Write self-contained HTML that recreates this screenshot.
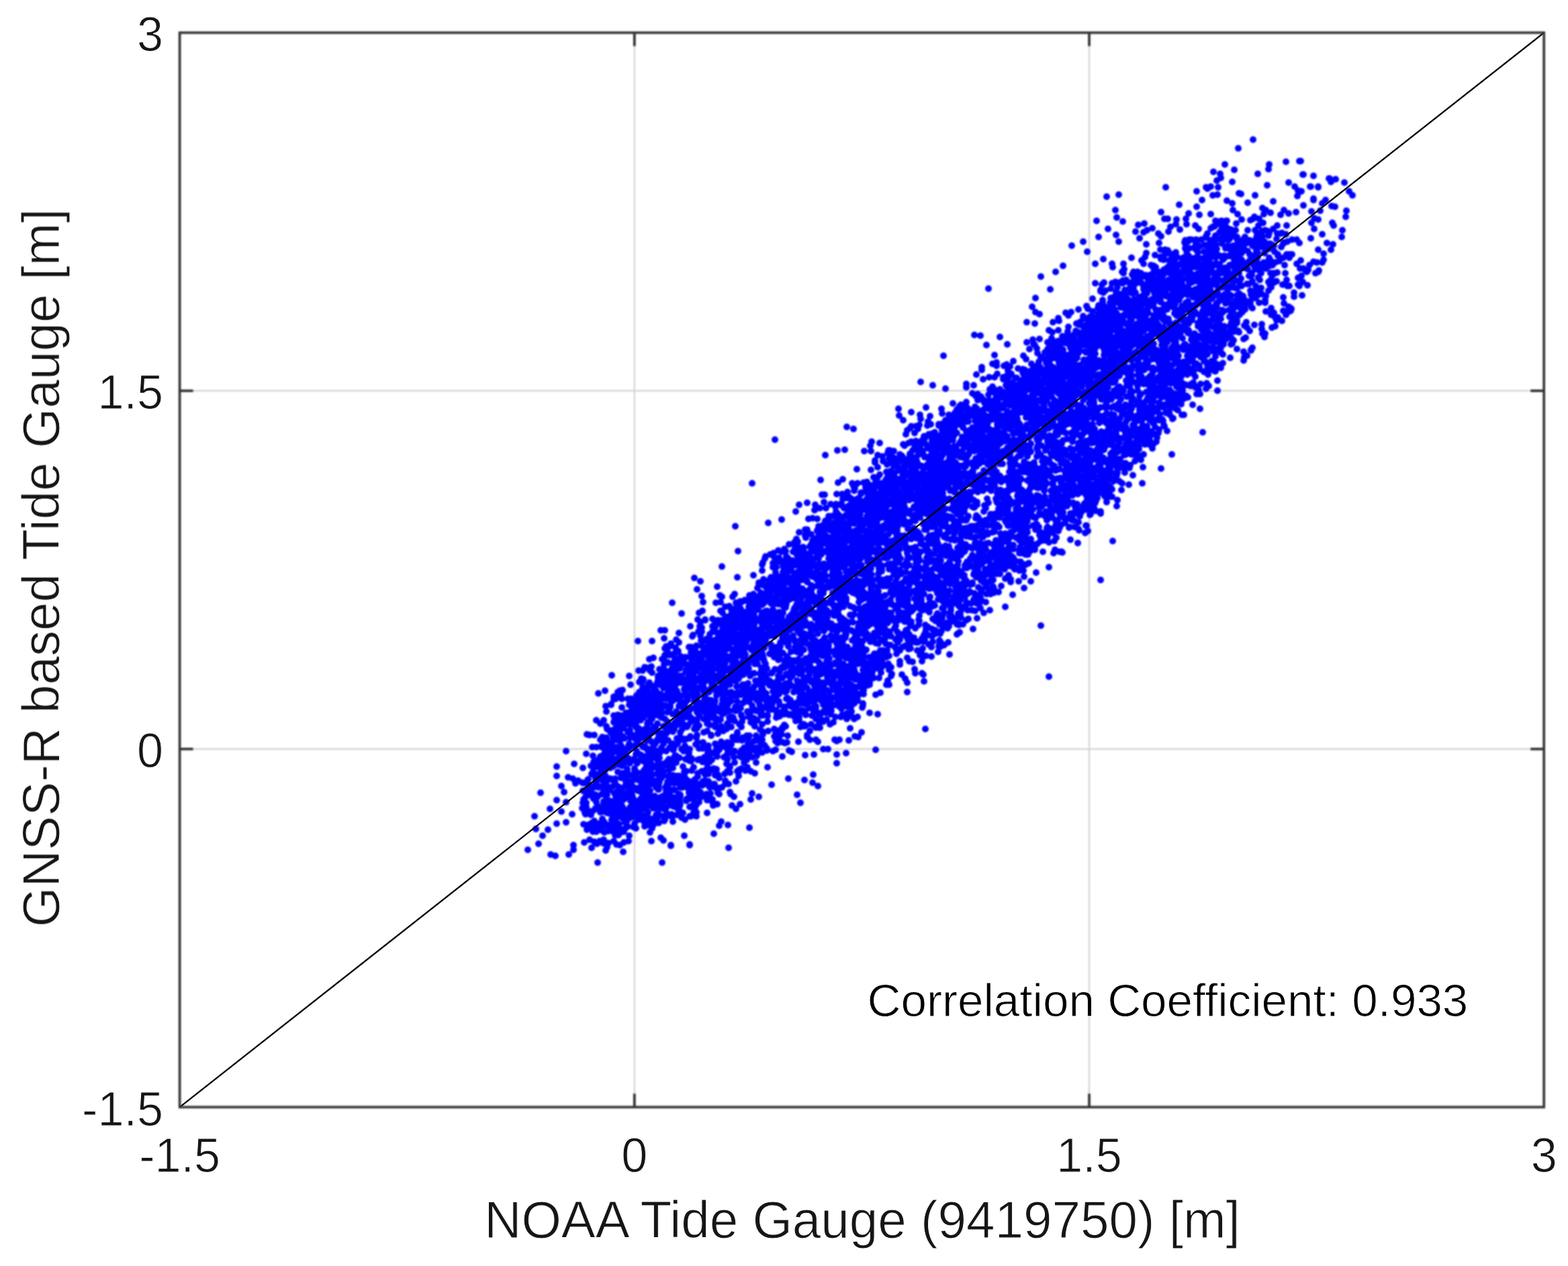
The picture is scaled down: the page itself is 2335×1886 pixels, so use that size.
<!DOCTYPE html>
<html lang="en">
<head>
<meta charset="utf-8">
<title>GNSS-R based Tide Gauge vs NOAA Tide Gauge</title>
<style>
html,body{margin:0;padding:0;background:#fff;}
body{width:2335px;height:1886px;}
svg{display:block;}
text{font-family:"Liberation Sans",sans-serif;fill:#161616;}
</style>
</head>
<body>
<svg width="2335" height="1886" viewBox="0 0 2335 1886">
<defs>
<filter id="bd" filterUnits="userSpaceOnUse" x="0" y="0" width="2335" height="1886"><feGaussianBlur stdDeviation="1.00"/></filter>
<filter id="bl" filterUnits="userSpaceOnUse" x="0" y="0" width="2335" height="1886"><feGaussianBlur stdDeviation="0.70"/></filter>
<filter id="bt" filterUnits="userSpaceOnUse" x="0" y="0" width="2335" height="1886"><feGaussianBlur stdDeviation="0.70"/></filter>
<filter id="bg" filterUnits="userSpaceOnUse" x="0" y="0" width="2335" height="1886"><feGaussianBlur stdDeviation="0.50"/></filter>
<filter id="br" filterUnits="userSpaceOnUse" x="0" y="0" width="2335" height="1886"><feGaussianBlur stdDeviation="0.90"/></filter>
<filter id="ba" filterUnits="userSpaceOnUse" x="0" y="0" width="2335" height="1886"><feGaussianBlur stdDeviation="0.95"/></filter>
</defs>
<rect x="0" y="0" width="2335" height="1886" fill="#fff"/>
<g stroke="#d3d3d3" stroke-width="2.3" fill="none" filter="url(#br)">
<line x1="944.8" y1="48.7" x2="944.8" y2="1649.3"/>
<line x1="1622.0" y1="48.7" x2="1622.0" y2="1649.3"/>
<line x1="267.6" y1="582.2" x2="2299.2" y2="582.2"/>
<line x1="267.6" y1="1115.8" x2="2299.2" y2="1115.8"/>
</g>
<path id="scatter" filter="url(#bd)" fill="none" stroke="#0000ff" stroke-width="10.0" stroke-linecap="round" d="M786 1266h0M796 1216h0M798 1235h0M802 1257h0M805 1181h0M808 1245h0M816 1236h0M819 1205h0M820 1273h0M827 1275h0M829 1227h0M829 1142h0M829 1156h0M829 1192h0M836 1171h0M836 1209h0M840 1180h0M843 1119h0M843 1195h0M843 1225h0M846 1158h0M847 1273h0M852 1213h0M853 1160h0M854 1259h0M854 1266h0M855 1138h0M857 1167h0M861 1163h0M867 1204h0M867 1166h0M868 1196h0M868 1178h0M868 1144h0M869 1191h0M869 1228h0M870 1255h0M870 1207h0M871 1211h0M871 1167h0M872 1213h0M872 1187h0M873 1123h0M873 1202h0M873 1196h0M874 1236h0M874 1094h0M875 1229h0M875 1182h0M875 1166h0M875 1162h0M876 1230h0M876 1161h0M876 1208h0M876 1176h0M878 1095h0M878 1251h0M880 1185h0M880 1141h0M880 1214h0M881 1263h0M881 1232h0M881 1153h0M881 1226h0M882 1172h0M882 1233h0M882 1182h0M882 1113h0M883 1126h0M883 1188h0M883 1150h0M883 1208h0M883 1139h0M883 1239h0M883 1226h0M884 1190h0M884 1135h0M884 1173h0M885 1190h0M885 1095h0M885 1233h0M885 1254h0M885 1238h0M885 1223h0M886 1153h0M886 1156h0M886 1143h0M886 1233h0M887 1167h0M887 1204h0M887 1184h0M887 1160h0M887 1186h0M887 1205h0M888 1168h0M888 1113h0M888 1164h0M888 1073h0M888 1195h0M888 1239h0M889 1257h0M889 1235h0M890 1135h0M890 1187h0M890 1285h0M890 1201h0M890 1142h0M891 1173h0M891 1233h0M891 1228h0M891 1132h0M891 1033h0M892 1139h0M892 1161h0M892 1138h0M893 1253h0M893 1152h0M893 1138h0M893 1232h0M894 1078h0M894 1102h0M894 1210h0M894 1127h0M894 1209h0M894 1226h0M894 1133h0M895 1133h0M895 1146h0M895 1172h0M895 1133h0M896 1111h0M896 1183h0M896 1161h0M896 1237h0M896 1113h0M896 1139h0M897 1227h0M897 1098h0M897 1226h0M897 1135h0M897 1220h0M898 1256h0M898 1137h0M898 1209h0M898 1183h0M898 1106h0M898 1153h0M898 1163h0M899 1251h0M899 1073h0M899 1194h0M899 1197h0M899 1104h0M899 1203h0M899 1140h0M899 1124h0M899 1177h0M900 1171h0M900 1148h0M900 1112h0M900 1230h0M900 1133h0M900 1225h0M900 1184h0M900 1240h0M900 1142h0M901 1230h0M901 1029h0M901 1112h0M901 1147h0M901 1155h0M901 1117h0M901 1118h0M902 1140h0M902 1052h0M902 1267h0M903 1165h0M903 1158h0M903 1082h0M903 1060h0M903 1193h0M903 1184h0M903 1169h0M903 1107h0M903 1099h0M904 1086h0M904 1184h0M904 1211h0M904 1262h0M904 1113h0M904 1125h0M905 1197h0M905 1136h0M905 1208h0M906 1256h0M906 1238h0M906 1195h0M906 1174h0M907 1119h0M907 1109h0M907 1088h0M907 1195h0M908 1202h0M908 1229h0M908 1135h0M908 1110h0M908 1177h0M908 1193h0M908 1212h0M908 1203h0M908 1118h0M908 1133h0M909 1106h0M909 1126h0M909 1120h0M909 1144h0M909 1236h0M909 1208h0M909 1160h0M909 1209h0M910 1050h0M910 1092h0M910 1049h0M911 1006h0M911 1142h0M911 1221h0M911 1106h0M911 1222h0M912 1207h0M912 1172h0M912 1122h0M912 1199h0M912 1112h0M912 1226h0M912 1162h0M912 1088h0M913 1093h0M913 1239h0M913 1113h0M913 1099h0M913 1142h0M914 1076h0M914 1212h0M914 1230h0M914 1117h0M914 1217h0M914 1066h0M914 1253h0M914 1042h0M914 1206h0M914 1038h0M915 1135h0M915 1073h0M915 1098h0M915 1182h0M915 1163h0M916 1160h0M916 1086h0M916 1244h0M916 1166h0M916 1131h0M916 1118h0M917 1087h0M917 1182h0M917 1204h0M917 1115h0M917 1041h0M917 1221h0M917 1102h0M917 1189h0M917 1194h0M917 1185h0M918 1138h0M918 1237h0M918 1217h0M918 1258h0M918 1067h0M918 1202h0M918 1113h0M918 1080h0M918 1180h0M919 1080h0M919 1120h0M919 1236h0M919 1085h0M919 1116h0M920 1244h0M920 1081h0M920 1243h0M920 1150h0M920 1139h0M920 1031h0M920 1116h0M920 1065h0M920 1195h0M921 1244h0M921 1233h0M921 1087h0M921 1212h0M921 1202h0M921 1172h0M921 1197h0M921 1091h0M921 1201h0M921 1035h0M921 1103h0M922 1089h0M922 1237h0M922 1228h0M922 1136h0M922 1076h0M922 1127h0M923 1259h0M923 1188h0M923 1029h0M923 1104h0M923 1095h0M923 1115h0M923 1241h0M923 1092h0M923 1072h0M923 1094h0M924 1032h0M924 1081h0M924 1198h0M924 1035h0M924 1183h0M924 1066h0M925 1158h0M925 1111h0M925 1205h0M925 1159h0M925 1075h0M925 1120h0M926 1200h0M926 1177h0M926 1128h0M926 1153h0M926 1141h0M926 1214h0M926 1157h0M926 1041h0M926 1054h0M927 1181h0M927 1067h0M927 1076h0M927 1219h0M927 1097h0M927 1152h0M927 1216h0M927 1134h0M927 1028h0M928 1208h0M928 1205h0M928 1204h0M928 1269h0M928 1269h0M928 1215h0M928 1236h0M929 1085h0M929 1182h0M929 1191h0M929 1070h0M929 1255h0M929 1239h0M930 1080h0M930 1221h0M930 1209h0M930 1100h0M930 1153h0M930 1172h0M930 1137h0M931 1225h0M931 1152h0M931 1234h0M932 1216h0M932 1068h0M932 1077h0M932 1069h0M932 1116h0M932 1165h0M932 1124h0M932 1062h0M932 1130h0M932 1126h0M933 1069h0M933 1212h0M934 1149h0M934 1146h0M934 1078h0M934 1230h0M934 1184h0M934 1157h0M934 1222h0M934 1232h0M935 1209h0M935 1188h0M935 1041h0M935 1077h0M935 1067h0M935 1065h0M935 1076h0M935 1153h0M935 1091h0M936 1175h0M936 1130h0M936 1253h0M936 1135h0M936 1062h0M936 1111h0M936 1116h0M936 1073h0M937 1079h0M937 1108h0M937 1132h0M937 1215h0M937 1207h0M937 1050h0M937 1007h0M937 1218h0M937 1182h0M937 1245h0M937 1114h0M937 1166h0M937 1214h0M937 1069h0M938 1132h0M938 1048h0M938 1137h0M938 1203h0M938 1174h0M938 1114h0M938 1180h0M938 1088h0M938 1099h0M938 1216h0M938 1206h0M939 1189h0M939 1206h0M939 1190h0M939 1213h0M939 1020h0M939 1216h0M939 1218h0M939 1193h0M939 1214h0M940 1063h0M940 1044h0M940 1094h0M940 1041h0M940 1043h0M940 1072h0M940 1065h0M941 1051h0M941 1055h0M941 1184h0M941 1198h0M941 1216h0M941 1164h0M941 1197h0M942 1187h0M942 1070h0M942 1155h0M942 1054h0M942 1211h0M942 1055h0M943 1199h0M943 1232h0M943 1205h0M943 1099h0M944 1131h0M944 1080h0M944 1203h0M944 1173h0M944 1062h0M944 1198h0M944 1217h0M945 1071h0M945 1111h0M945 1079h0M945 1148h0M945 1096h0M945 1227h0M945 1145h0M945 1133h0M946 1208h0M946 1133h0M946 1193h0M946 1176h0M946 1051h0M947 1068h0M947 1065h0M947 1080h0M947 1234h0M947 1083h0M947 1044h0M947 1157h0M947 1075h0M947 1077h0M947 1124h0M948 1119h0M948 1036h0M948 1103h0M949 1073h0M949 1060h0M949 1137h0M949 1161h0M949 1094h0M949 1053h0M949 1134h0M949 1176h0M949 1151h0M949 1203h0M950 1107h0M950 1198h0M950 1088h0M950 955h0M950 1162h0M950 1178h0M950 1072h0M950 1058h0M950 1040h0M950 1178h0M951 999h0M951 1085h0M951 1174h0M951 1215h0M951 1055h0M951 1221h0M951 1064h0M951 1071h0M951 1043h0M952 1094h0M952 1069h0M952 1031h0M952 1064h0M952 1037h0M952 1208h0M952 1016h0M952 1058h0M952 1178h0M953 1032h0M953 1048h0M953 1098h0M953 1046h0M953 1061h0M953 1212h0M953 1124h0M954 1190h0M954 1100h0M954 1073h0M954 1161h0M954 1200h0M954 1037h0M955 1214h0M955 1178h0M955 1127h0M955 1062h0M955 1011h0M955 1125h0M955 1180h0M955 1189h0M955 1170h0M956 1181h0M956 1189h0M956 1095h0M956 1067h0M956 1217h0M956 1056h0M956 1048h0M956 1111h0M956 1049h0M956 1063h0M957 1156h0M957 1015h0M957 1036h0M957 999h0M957 1112h0M957 1024h0M957 1191h0M957 1095h0M958 1220h0M958 1113h0M958 1165h0M958 1149h0M958 1012h0M958 1041h0M958 1165h0M958 1134h0M958 1159h0M958 1099h0M958 1069h0M959 1176h0M959 1041h0M959 1196h0M959 1040h0M959 1224h0M959 1087h0M959 1148h0M959 1205h0M959 1223h0M959 1046h0M960 1092h0M960 1231h0M960 994h0M960 1182h0M960 1132h0M960 1186h0M960 1111h0M960 1040h0M961 1226h0M961 1153h0M961 1201h0M961 1204h0M961 1145h0M961 1127h0M961 1059h0M961 1032h0M961 1043h0M961 1045h0M962 1184h0M962 1154h0M962 1036h0M962 1046h0M962 1203h0M962 1114h0M962 1064h0M962 1169h0M962 1098h0M962 1153h0M962 1215h0M962 1094h0M962 1032h0M963 1128h0M963 1168h0M963 1090h0M963 1055h0M963 1162h0M963 1140h0M964 1088h0M964 1167h0M964 1173h0M964 1083h0M964 995h0M964 1025h0M964 1092h0M964 1135h0M964 1033h0M964 1078h0M964 1211h0M964 1117h0M964 1031h0M964 1103h0M964 1174h0M964 1091h0M964 1130h0M964 1167h0M964 1188h0M965 1076h0M965 1184h0M965 1229h0M965 1049h0M965 1217h0M965 1125h0M965 1210h0M965 1063h0M965 1088h0M965 1021h0M965 1034h0M966 1192h0M966 1057h0M966 1226h0M967 1129h0M967 1102h0M967 1183h0M967 1190h0M967 1124h0M967 1169h0M967 1155h0M967 1066h0M967 982h0M967 1017h0M968 1194h0M968 999h0M968 1068h0M968 1116h0M968 1057h0M968 1222h0M968 1178h0M968 1076h0M968 1060h0M968 1093h0M968 1131h0M968 1240h0M969 1143h0M969 1022h0M969 1148h0M969 1042h0M969 1136h0M970 1198h0M970 1196h0M970 1038h0M970 1201h0M970 1119h0M970 1198h0M970 993h0M970 1253h0M971 1002h0M971 1059h0M971 1154h0M971 1106h0M971 1048h0M971 1060h0M971 1071h0M971 1234h0M971 1196h0M971 1032h0M971 955h0M971 1091h0M972 1223h0M972 1067h0M972 1033h0M972 1168h0M972 1050h0M972 1022h0M972 1088h0M972 1162h0M973 1143h0M973 1229h0M973 1200h0M973 1114h0M973 1194h0M973 1204h0M973 1118h0M973 980h0M974 1066h0M974 1028h0M974 1219h0M974 1141h0M974 1083h0M974 1226h0M975 1123h0M975 1186h0M975 1022h0M975 1044h0M975 1052h0M975 1109h0M975 1029h0M976 1204h0M976 1125h0M976 1129h0M976 1053h0M976 1199h0M976 1123h0M976 1196h0M977 1087h0M977 1032h0M977 1219h0M977 1039h0M977 1029h0M977 1189h0M977 1086h0M977 1106h0M977 1173h0M977 1214h0M977 1204h0M978 1103h0M978 1153h0M978 1192h0M978 1050h0M979 1078h0M979 1167h0M979 1131h0M979 1038h0M979 1016h0M979 1090h0M979 1219h0M979 1172h0M979 1132h0M979 1057h0M979 1129h0M980 1010h0M980 1176h0M980 1015h0M980 1146h0M980 1014h0M980 1201h0M980 1059h0M980 1131h0M980 1170h0M980 1190h0M980 1169h0M980 1146h0M980 1007h0M980 1144h0M981 1226h0M981 1195h0M981 1161h0M981 1176h0M981 1171h0M981 1152h0M981 1213h0M981 1214h0M981 1097h0M981 1137h0M982 1020h0M982 1165h0M982 1063h0M982 997h0M982 1140h0M982 1102h0M982 1129h0M982 1118h0M982 1038h0M982 1067h0M982 1096h0M983 1037h0M983 1047h0M983 1049h0M983 1188h0M983 1121h0M983 1143h0M983 1204h0M983 1006h0M983 1138h0M984 1148h0M984 1248h0M984 1034h0M984 1013h0M984 1052h0M984 1065h0M984 1037h0M984 939h0M984 1065h0M984 1140h0M984 1043h0M984 1156h0M984 1194h0M985 1092h0M985 1114h0M985 1159h0M985 1102h0M985 1069h0M986 1285h0M986 1004h0M986 1062h0M986 1038h0M986 1147h0M986 1011h0M986 1054h0M986 1156h0M986 982h0M986 1051h0M987 1051h0M987 1199h0M987 1041h0M987 1142h0M987 1186h0M988 1205h0M988 997h0M988 1023h0M988 1155h0M988 1252h0M988 1082h0M988 1150h0M988 1108h0M988 1188h0M988 1138h0M988 1216h0M988 1025h0M989 951h0M989 1007h0M989 1003h0M989 1218h0M989 1101h0M989 1052h0M989 1223h0M989 1002h0M989 1204h0M989 990h0M989 980h0M990 1071h0M990 966h0M990 1096h0M990 1221h0M990 939h0M990 976h0M991 1173h0M991 1051h0M991 1036h0M991 1040h0M991 1008h0M991 1206h0M991 999h0M991 1019h0M991 1083h0M992 963h0M992 1180h0M992 1203h0M992 1016h0M992 1041h0M992 1177h0M992 1192h0M992 1119h0M992 1182h0M993 1087h0M993 1202h0M993 1212h0M993 1135h0M993 1089h0M993 1092h0M993 1190h0M993 1169h0M994 1016h0M994 1061h0M994 1038h0M994 1036h0M994 971h0M994 1165h0M994 1075h0M995 1020h0M995 1180h0M995 1017h0M995 1157h0M995 1031h0M995 1103h0M995 987h0M995 1135h0M995 1215h0M995 1141h0M996 1006h0M996 1178h0M996 1058h0M996 1131h0M996 1181h0M996 1040h0M996 1147h0M997 1026h0M997 1183h0M997 1143h0M997 1031h0M997 1155h0M997 1114h0M997 976h0M997 1167h0M997 1176h0M997 963h0M997 1004h0M998 1160h0M998 1191h0M998 1054h0M998 1043h0M998 1138h0M998 975h0M998 1195h0M998 1215h0M998 1000h0M998 1051h0M999 1259h0M999 1037h0M999 1260h0M999 1160h0M999 959h0M999 1021h0M999 1009h0M1000 1213h0M1000 1012h0M1000 1110h0M1000 1037h0M1000 1010h0M1000 1043h0M1000 1132h0M1000 1004h0M1000 1081h0M1001 1024h0M1001 1137h0M1001 1217h0M1001 1028h0M1001 995h0M1001 1005h0M1001 1192h0M1001 898h0M1001 1088h0M1001 1177h0M1002 1144h0M1002 1155h0M1002 1064h0M1002 1108h0M1002 1044h0M1002 1201h0M1002 999h0M1002 1117h0M1002 1064h0M1002 994h0M1002 1224h0M1002 1090h0M1003 1003h0M1003 1177h0M1003 1117h0M1003 990h0M1004 1004h0M1004 1188h0M1004 1167h0M1004 986h0M1004 1086h0M1004 1040h0M1004 1128h0M1005 1126h0M1005 1177h0M1005 1111h0M1005 1134h0M1005 995h0M1005 1009h0M1005 981h0M1005 1076h0M1005 1018h0M1005 973h0M1005 1025h0M1006 1041h0M1006 1006h0M1006 983h0M1006 999h0M1006 995h0M1006 965h0M1007 1019h0M1007 1064h0M1007 997h0M1007 1126h0M1007 1156h0M1007 1060h0M1007 1015h0M1007 1038h0M1007 1131h0M1007 1064h0M1007 1203h0M1007 1074h0M1007 953h0M1007 1016h0M1007 1136h0M1008 983h0M1008 971h0M1008 1214h0M1008 1200h0M1008 1100h0M1008 1029h0M1008 1033h0M1008 1041h0M1008 982h0M1008 993h0M1008 1159h0M1008 1080h0M1008 1041h0M1008 994h0M1009 1196h0M1009 1200h0M1009 1108h0M1009 1065h0M1010 970h0M1010 1159h0M1010 1167h0M1010 1194h0M1010 995h0M1010 1034h0M1011 1183h0M1011 1161h0M1011 957h0M1011 1208h0M1011 1163h0M1011 1189h0M1011 1214h0M1011 1007h0M1011 1052h0M1011 1212h0M1011 1038h0M1011 1160h0M1011 1156h0M1011 943h0M1011 1209h0M1012 1007h0M1012 1201h0M1012 1129h0M1012 1185h0M1012 1103h0M1012 996h0M1012 1185h0M1012 1199h0M1012 1193h0M1013 1048h0M1013 1098h0M1013 1091h0M1013 1071h0M1013 1039h0M1013 988h0M1013 1198h0M1013 994h0M1013 1173h0M1013 1184h0M1013 1187h0M1013 1043h0M1013 1171h0M1013 1077h0M1013 1209h0M1014 1072h0M1014 1064h0M1014 1017h0M1014 1037h0M1014 978h0M1015 1116h0M1015 1012h0M1015 1218h0M1015 979h0M1015 1007h0M1015 914h0M1015 986h0M1016 1062h0M1016 1086h0M1016 1161h0M1016 1053h0M1016 1173h0M1017 1142h0M1017 1078h0M1017 1211h0M1017 1171h0M1018 1069h0M1018 1119h0M1018 1102h0M1019 1028h0M1019 1052h0M1019 1167h0M1019 1156h0M1019 1245h0M1019 987h0M1019 1026h0M1019 1054h0M1019 1064h0M1019 1150h0M1019 1116h0M1020 1048h0M1020 1172h0M1020 1101h0M1020 1111h0M1020 1165h0M1020 1221h0M1021 1131h0M1021 979h0M1021 1001h0M1021 1020h0M1021 1032h0M1021 1028h0M1021 1059h0M1021 1046h0M1022 1169h0M1022 1193h0M1022 1068h0M1022 990h0M1022 1064h0M1022 998h0M1022 1161h0M1022 999h0M1022 1149h0M1022 1101h0M1022 1192h0M1023 1173h0M1023 1083h0M1023 1190h0M1023 1065h0M1023 1040h0M1023 1012h0M1023 1056h0M1024 995h0M1024 1043h0M1024 1129h0M1024 1038h0M1025 1121h0M1025 1080h0M1025 1168h0M1025 998h0M1025 1015h0M1025 1009h0M1025 1061h0M1025 1037h0M1026 1069h0M1026 1006h0M1026 1181h0M1026 1003h0M1026 1122h0M1026 1164h0M1026 1133h0M1026 964h0M1026 1020h0M1026 1056h0M1026 997h0M1026 1177h0M1027 1025h0M1027 999h0M1027 1056h0M1027 1176h0M1027 1259h0M1027 1216h0M1027 1182h0M1027 994h0M1027 1067h0M1027 1100h0M1027 1258h0M1027 1202h0M1027 1116h0M1027 1058h0M1027 979h0M1027 1190h0M1028 933h0M1028 1097h0M1028 1013h0M1028 1026h0M1028 1023h0M1028 1018h0M1029 972h0M1029 1187h0M1029 1070h0M1029 1134h0M1029 1216h0M1029 1055h0M1029 964h0M1029 1022h0M1029 1075h0M1029 1014h0M1030 1148h0M1030 1171h0M1030 1015h0M1030 966h0M1030 1000h0M1030 1130h0M1030 968h0M1030 985h0M1030 1201h0M1030 1166h0M1030 998h0M1030 1027h0M1030 1007h0M1031 1027h0M1031 1033h0M1031 1071h0M1031 1034h0M1031 1031h0M1031 994h0M1031 948h0M1031 1173h0M1031 1175h0M1032 1184h0M1032 999h0M1032 990h0M1032 946h0M1032 1025h0M1032 1165h0M1033 1174h0M1033 1143h0M1033 1003h0M1033 1072h0M1033 1189h0M1033 1021h0M1033 994h0M1033 1022h0M1033 984h0M1033 995h0M1033 1210h0M1034 1045h0M1034 1040h0M1034 861h0M1034 1198h0M1034 1208h0M1034 1197h0M1034 998h0M1034 1187h0M1034 1086h0M1034 1162h0M1034 1055h0M1035 989h0M1035 1203h0M1035 1015h0M1035 1054h0M1035 1010h0M1035 1161h0M1036 980h0M1036 1109h0M1036 1073h0M1036 1082h0M1036 976h0M1037 984h0M1037 1216h0M1037 1184h0M1037 1210h0M1037 962h0M1037 972h0M1037 981h0M1037 1015h0M1037 1199h0M1037 1085h0M1037 997h0M1037 1099h0M1037 1040h0M1037 963h0M1037 1197h0M1037 998h0M1037 1000h0M1038 1186h0M1038 1085h0M1038 990h0M1038 878h0M1038 1178h0M1038 1168h0M1038 1073h0M1038 975h0M1038 1061h0M1038 1027h0M1038 1095h0M1039 1106h0M1039 923h0M1039 1062h0M1039 1172h0M1039 984h0M1039 1132h0M1039 1035h0M1039 1011h0M1039 1157h0M1039 1152h0M1040 941h0M1040 1025h0M1041 1081h0M1041 1066h0M1041 913h0M1041 986h0M1041 1050h0M1041 1195h0M1041 1115h0M1041 1179h0M1042 942h0M1042 1026h0M1042 1049h0M1042 1131h0M1042 1047h0M1042 933h0M1042 991h0M1043 1188h0M1043 1180h0M1043 1025h0M1043 866h0M1043 927h0M1043 1056h0M1043 987h0M1043 947h0M1044 954h0M1044 1006h0M1044 1167h0M1045 941h0M1045 1007h0M1045 935h0M1045 888h0M1045 974h0M1045 956h0M1045 980h0M1045 1149h0M1045 1009h0M1045 1018h0M1046 1170h0M1046 1005h0M1046 997h0M1046 1051h0M1046 963h0M1046 910h0M1046 1135h0M1046 1115h0M1046 972h0M1046 976h0M1047 1164h0M1047 988h0M1047 897h0M1047 1049h0M1047 1106h0M1047 999h0M1047 992h0M1048 1030h0M1048 1071h0M1048 1186h0M1048 1186h0M1048 1018h0M1048 1091h0M1048 1014h0M1048 1002h0M1048 1109h0M1049 1029h0M1049 1007h0M1049 1061h0M1049 965h0M1049 996h0M1049 1040h0M1049 990h0M1049 1026h0M1049 1129h0M1049 1128h0M1049 1040h0M1049 972h0M1049 1037h0M1049 974h0M1050 1154h0M1050 1134h0M1050 923h0M1050 924h0M1050 1034h0M1050 1163h0M1050 1168h0M1051 1040h0M1051 1187h0M1051 1147h0M1051 1058h0M1051 1048h0M1051 1072h0M1051 1055h0M1052 1002h0M1052 1007h0M1052 952h0M1052 955h0M1052 1061h0M1052 1166h0M1052 1183h0M1052 1184h0M1053 1078h0M1053 1138h0M1053 1049h0M1053 1089h0M1053 1137h0M1053 1191h0M1053 1002h0M1053 1192h0M1053 1073h0M1053 1068h0M1053 1211h0M1054 1144h0M1054 985h0M1054 1054h0M1054 977h0M1054 1121h0M1054 1049h0M1055 1067h0M1055 1164h0M1055 1153h0M1055 1117h0M1055 1111h0M1055 962h0M1055 1002h0M1055 975h0M1055 1013h0M1055 1071h0M1055 1001h0M1056 982h0M1056 970h0M1056 992h0M1056 1006h0M1056 1031h0M1056 1007h0M1056 1062h0M1056 1171h0M1056 989h0M1056 982h0M1057 1054h0M1057 1060h0M1057 1135h0M1057 1080h0M1057 1167h0M1057 1130h0M1057 1173h0M1057 977h0M1057 945h0M1058 962h0M1058 1028h0M1058 1190h0M1058 1182h0M1058 1043h0M1058 989h0M1058 1008h0M1059 1058h0M1059 994h0M1059 1025h0M1059 1146h0M1059 1172h0M1059 1007h0M1059 967h0M1059 1095h0M1059 972h0M1059 1017h0M1059 1096h0M1060 1044h0M1060 954h0M1060 974h0M1060 1013h0M1060 1132h0M1060 1001h0M1060 1052h0M1060 1147h0M1061 1122h0M1061 1195h0M1061 1191h0M1061 998h0M1061 989h0M1061 941h0M1061 933h0M1061 1055h0M1061 1059h0M1061 922h0M1062 1066h0M1062 1200h0M1062 978h0M1062 983h0M1062 1053h0M1062 996h0M1062 1013h0M1062 1057h0M1062 970h0M1063 1145h0M1063 1242h0M1063 1021h0M1063 1067h0M1063 981h0M1063 1070h0M1064 1168h0M1064 1121h0M1064 1049h0M1064 1070h0M1064 937h0M1064 962h0M1064 985h0M1064 941h0M1065 1083h0M1065 927h0M1065 1044h0M1065 1155h0M1065 1079h0M1065 1013h0M1065 934h0M1065 1007h0M1065 1007h0M1065 1108h0M1066 929h0M1066 898h0M1066 1025h0M1066 953h0M1066 1174h0M1066 1012h0M1067 1008h0M1067 1036h0M1067 1055h0M1067 1031h0M1067 1146h0M1067 978h0M1067 928h0M1067 1028h0M1067 1055h0M1067 1114h0M1067 1059h0M1067 1007h0M1068 1121h0M1068 1071h0M1068 988h0M1068 1198h0M1068 957h0M1068 1127h0M1068 874h0M1069 1181h0M1069 924h0M1069 997h0M1069 1154h0M1069 973h0M1069 964h0M1069 1093h0M1069 928h0M1069 943h0M1070 1174h0M1070 1073h0M1070 970h0M1070 1032h0M1070 983h0M1070 1056h0M1070 947h0M1070 995h0M1071 1230h0M1071 1086h0M1071 1183h0M1071 998h0M1071 943h0M1071 948h0M1071 1117h0M1071 1159h0M1071 1174h0M1072 929h0M1072 887h0M1072 968h0M1073 1026h0M1073 1056h0M1073 1061h0M1073 910h0M1073 1024h0M1073 1001h0M1073 1011h0M1073 1060h0M1073 975h0M1073 1072h0M1073 897h0M1073 1015h0M1073 1057h0M1073 959h0M1074 1031h0M1074 955h0M1074 943h0M1074 1105h0M1074 990h0M1074 1082h0M1074 1224h0M1074 942h0M1074 983h0M1074 1112h0M1074 1033h0M1075 889h0M1075 844h0M1075 1049h0M1075 1053h0M1075 951h0M1075 924h0M1075 951h0M1075 979h0M1075 1173h0M1076 1064h0M1076 1006h0M1076 1054h0M1076 930h0M1076 1024h0M1076 964h0M1076 913h0M1076 936h0M1076 1021h0M1076 1042h0M1077 933h0M1077 1112h0M1077 954h0M1077 986h0M1077 1039h0M1077 1112h0M1077 1089h0M1077 1001h0M1077 968h0M1077 951h0M1078 940h0M1078 1001h0M1078 1128h0M1078 934h0M1078 927h0M1078 1049h0M1078 1061h0M1078 968h0M1078 973h0M1079 994h0M1079 1015h0M1079 1062h0M1079 1153h0M1079 947h0M1079 997h0M1079 1023h0M1079 1034h0M1079 946h0M1079 955h0M1079 935h0M1080 945h0M1080 1163h0M1080 921h0M1080 986h0M1080 984h0M1080 1168h0M1080 1024h0M1080 1057h0M1080 996h0M1080 904h0M1080 988h0M1081 1043h0M1081 1110h0M1081 996h0M1081 968h0M1081 950h0M1081 960h0M1081 998h0M1082 1016h0M1082 927h0M1082 1114h0M1082 1138h0M1082 1125h0M1082 952h0M1082 1086h0M1083 1132h0M1083 941h0M1083 962h0M1083 919h0M1083 1010h0M1083 1106h0M1083 978h0M1083 1078h0M1083 1130h0M1083 997h0M1083 1149h0M1084 1050h0M1084 920h0M1084 949h0M1084 999h0M1084 1119h0M1084 1032h0M1084 930h0M1084 1229h0M1084 943h0M1084 1043h0M1085 921h0M1085 922h0M1085 1059h0M1085 1168h0M1085 922h0M1085 931h0M1085 931h0M1085 1042h0M1085 1263h0M1086 1059h0M1086 982h0M1086 959h0M1086 953h0M1086 957h0M1086 979h0M1086 920h0M1086 1032h0M1086 903h0M1086 934h0M1086 1069h0M1086 1141h0M1087 980h0M1087 1113h0M1087 1073h0M1087 1020h0M1087 1143h0M1087 1180h0M1087 1151h0M1088 1002h0M1088 982h0M1088 995h0M1088 949h0M1088 1045h0M1088 1183h0M1088 923h0M1088 1012h0M1089 931h0M1089 953h0M1089 925h0M1089 908h0M1089 967h0M1089 1036h0M1089 981h0M1089 967h0M1089 1106h0M1089 915h0M1089 1031h0M1089 1044h0M1089 1109h0M1089 940h0M1089 919h0M1089 957h0M1089 1083h0M1089 950h0M1090 1200h0M1090 940h0M1090 930h0M1090 930h0M1090 1068h0M1090 1004h0M1090 980h0M1090 1001h0M1090 945h0M1091 975h0M1091 1007h0M1091 936h0M1091 1013h0M1091 935h0M1091 924h0M1091 889h0M1091 1098h0M1091 988h0M1091 1003h0M1091 1123h0M1092 1069h0M1092 953h0M1092 919h0M1092 1011h0M1092 1035h0M1093 1058h0M1093 920h0M1093 977h0M1093 992h0M1093 1187h0M1093 956h0M1093 1128h0M1094 999h0M1094 885h0M1094 1099h0M1094 930h0M1094 907h0M1094 1136h0M1094 968h0M1094 937h0M1094 1074h0M1094 935h0M1094 936h0M1094 1119h0M1094 956h0M1095 995h0M1095 1053h0M1095 977h0M1095 937h0M1095 784h0M1095 922h0M1095 984h0M1096 978h0M1096 1011h0M1096 1205h0M1096 1059h0M1096 1033h0M1096 945h0M1096 970h0M1096 1102h0M1096 1015h0M1096 1037h0M1096 968h0M1096 980h0M1096 1056h0M1096 928h0M1096 1164h0M1096 898h0M1097 914h0M1097 1005h0M1097 904h0M1097 1023h0M1097 962h0M1098 1091h0M1098 1052h0M1098 955h0M1098 1006h0M1098 928h0M1098 1053h0M1098 1149h0M1098 1045h0M1098 947h0M1098 860h0M1098 954h0M1098 1093h0M1098 936h0M1099 821h0M1099 929h0M1099 995h0M1099 1102h0M1100 1147h0M1100 1057h0M1100 1011h0M1100 1150h0M1100 919h0M1100 1032h0M1100 1156h0M1100 946h0M1101 931h0M1101 1079h0M1101 1147h0M1101 947h0M1101 902h0M1101 989h0M1101 1005h0M1102 1035h0M1102 966h0M1102 896h0M1102 951h0M1102 914h0M1102 1122h0M1102 963h0M1102 1198h0M1102 1006h0M1102 1127h0M1102 953h0M1103 932h0M1103 1035h0M1103 967h0M1103 907h0M1103 968h0M1103 975h0M1103 996h0M1103 1055h0M1104 1145h0M1104 1118h0M1104 1128h0M1104 1065h0M1104 1083h0M1104 1083h0M1104 1066h0M1104 977h0M1104 1006h0M1104 919h0M1104 1001h0M1104 991h0M1105 1021h0M1105 962h0M1105 938h0M1105 1075h0M1105 931h0M1105 1103h0M1105 942h0M1105 1001h0M1105 998h0M1106 925h0M1106 1020h0M1106 1070h0M1106 1099h0M1106 958h0M1106 913h0M1106 921h0M1106 1027h0M1106 896h0M1106 977h0M1107 920h0M1107 920h0M1107 1047h0M1107 983h0M1107 937h0M1107 954h0M1107 1122h0M1107 932h0M1107 1005h0M1107 1118h0M1108 1114h0M1108 1136h0M1108 924h0M1108 946h0M1108 971h0M1108 994h0M1108 1030h0M1108 962h0M1109 957h0M1109 978h0M1109 894h0M1109 1020h0M1109 933h0M1109 918h0M1109 924h0M1109 1030h0M1110 912h0M1110 1042h0M1110 1148h0M1110 975h0M1110 913h0M1111 1024h0M1111 928h0M1111 926h0M1111 931h0M1111 998h0M1111 964h0M1111 1035h0M1112 1001h0M1112 1028h0M1112 955h0M1112 1096h0M1112 1132h0M1112 1032h0M1113 1025h0M1113 947h0M1113 990h0M1113 1125h0M1113 939h0M1113 1115h0M1113 927h0M1113 1060h0M1113 1114h0M1113 1143h0M1113 1037h0M1114 1100h0M1114 1114h0M1114 920h0M1114 1112h0M1114 1107h0M1114 945h0M1114 943h0M1114 964h0M1114 986h0M1114 1045h0M1114 1018h0M1114 896h0M1114 990h0M1115 1030h0M1115 927h0M1115 996h0M1115 932h0M1115 915h0M1115 1064h0M1115 1068h0M1115 904h0M1116 887h0M1116 1003h0M1116 1233h0M1116 1096h0M1116 983h0M1116 942h0M1116 908h0M1116 950h0M1117 1007h0M1117 1063h0M1117 897h0M1117 1119h0M1117 1042h0M1117 920h0M1117 933h0M1118 905h0M1118 948h0M1118 933h0M1118 1191h0M1118 1111h0M1118 1076h0M1118 1149h0M1119 1037h0M1119 1039h0M1119 968h0M1119 912h0M1119 967h0M1119 895h0M1119 966h0M1119 945h0M1120 931h0M1120 1128h0M1120 1029h0M1120 720h0M1120 904h0M1120 979h0M1120 925h0M1120 1182h0M1120 1057h0M1120 1051h0M1121 1038h0M1121 966h0M1122 1025h0M1122 857h0M1122 1117h0M1122 944h0M1122 918h0M1122 895h0M1122 943h0M1122 1036h0M1122 885h0M1122 1056h0M1122 953h0M1122 932h0M1122 959h0M1122 1077h0M1123 1003h0M1123 1070h0M1123 1080h0M1123 917h0M1123 1057h0M1123 971h0M1123 1023h0M1123 932h0M1123 1104h0M1123 931h0M1123 896h0M1124 989h0M1124 1082h0M1124 940h0M1124 1058h0M1124 898h0M1124 1152h0M1124 897h0M1124 1118h0M1124 901h0M1124 951h0M1124 987h0M1125 926h0M1125 1014h0M1125 960h0M1125 948h0M1125 1036h0M1125 896h0M1125 889h0M1125 889h0M1126 922h0M1126 1114h0M1126 976h0M1126 1059h0M1126 1136h0M1126 1096h0M1126 909h0M1126 948h0M1127 1126h0M1127 957h0M1127 968h0M1127 1043h0M1127 967h0M1128 1073h0M1128 1042h0M1128 1033h0M1128 903h0M1128 989h0M1128 889h0M1128 1103h0M1128 972h0M1128 876h0M1129 895h0M1129 902h0M1129 908h0M1129 889h0M1129 1019h0M1129 981h0M1130 962h0M1130 871h0M1130 973h0M1130 1187h0M1130 868h0M1130 900h0M1131 1049h0M1131 897h0M1131 963h0M1131 1037h0M1131 938h0M1131 945h0M1131 1104h0M1131 1056h0M1132 901h0M1132 950h0M1132 1003h0M1132 1004h0M1132 1087h0M1132 1101h0M1132 1119h0M1132 961h0M1133 1011h0M1133 955h0M1133 883h0M1133 1111h0M1133 888h0M1133 1065h0M1133 960h0M1134 1053h0M1134 937h0M1134 1002h0M1134 927h0M1134 996h0M1134 999h0M1134 1055h0M1134 1061h0M1134 1026h0M1134 917h0M1134 946h0M1134 995h0M1134 928h0M1135 973h0M1135 1121h0M1135 965h0M1135 1079h0M1135 1029h0M1135 1102h0M1135 1015h0M1135 901h0M1135 1066h0M1135 850h0M1135 841h0M1135 1035h0M1135 913h0M1135 898h0M1135 1010h0M1135 941h0M1135 930h0M1135 923h0M1135 958h0M1136 956h0M1136 1029h0M1136 926h0M1136 838h0M1136 977h0M1136 1019h0M1136 1093h0M1136 1041h0M1136 978h0M1136 1094h0M1136 1027h0M1136 924h0M1136 1090h0M1137 953h0M1137 872h0M1137 863h0M1137 916h0M1137 899h0M1137 981h0M1138 1017h0M1138 920h0M1138 898h0M1138 890h0M1138 985h0M1138 965h0M1138 1110h0M1139 896h0M1139 887h0M1139 911h0M1139 951h0M1139 934h0M1139 952h0M1139 832h0M1139 924h0M1139 961h0M1139 1111h0M1139 1003h0M1140 829h0M1140 1040h0M1140 1005h0M1140 1035h0M1140 1053h0M1140 923h0M1140 913h0M1140 1012h0M1140 934h0M1140 989h0M1140 954h0M1141 1014h0M1141 1007h0M1141 945h0M1141 889h0M1141 1033h0M1141 892h0M1141 875h0M1142 910h0M1142 1047h0M1142 911h0M1142 1118h0M1142 883h0M1142 1055h0M1142 875h0M1142 882h0M1142 1041h0M1142 1115h0M1142 996h0M1142 949h0M1142 1014h0M1143 1065h0M1143 1143h0M1143 875h0M1143 1067h0M1143 933h0M1143 887h0M1143 883h0M1143 1041h0M1143 914h0M1143 1075h0M1144 870h0M1144 931h0M1144 927h0M1144 918h0M1144 1089h0M1144 870h0M1144 779h0M1145 1056h0M1145 865h0M1145 882h0M1145 943h0M1145 920h0M1145 941h0M1146 919h0M1146 1014h0M1146 895h0M1146 974h0M1146 878h0M1146 1041h0M1146 929h0M1146 1021h0M1147 862h0M1147 935h0M1147 890h0M1147 945h0M1147 826h0M1147 884h0M1148 860h0M1148 911h0M1148 1052h0M1148 899h0M1148 960h0M1148 947h0M1148 1049h0M1148 881h0M1149 1042h0M1149 1057h0M1149 935h0M1149 1169h0M1149 946h0M1149 966h0M1149 869h0M1149 1052h0M1149 1003h0M1149 1049h0M1149 865h0M1150 1040h0M1150 1049h0M1150 1002h0M1150 918h0M1150 1017h0M1150 1022h0M1150 924h0M1151 869h0M1151 845h0M1151 870h0M1151 839h0M1151 879h0M1151 1119h0M1151 1030h0M1151 908h0M1152 912h0M1152 824h0M1152 911h0M1152 865h0M1152 892h0M1152 937h0M1152 891h0M1152 977h0M1152 864h0M1152 900h0M1153 899h0M1153 948h0M1153 1097h0M1153 830h0M1153 877h0M1153 1036h0M1153 979h0M1153 944h0M1153 1086h0M1154 926h0M1154 655h0M1154 922h0M1154 867h0M1154 972h0M1154 870h0M1154 997h0M1154 973h0M1154 977h0M1154 940h0M1155 1117h0M1155 1058h0M1155 841h0M1155 1090h0M1155 940h0M1155 1104h0M1155 840h0M1155 944h0M1155 1043h0M1155 853h0M1155 1024h0M1156 971h0M1156 845h0M1156 1032h0M1156 858h0M1156 1058h0M1156 891h0M1156 964h0M1156 858h0M1156 1099h0M1156 1058h0M1156 1069h0M1156 866h0M1156 1041h0M1157 915h0M1157 932h0M1157 1064h0M1157 885h0M1158 1107h0M1158 877h0M1158 832h0M1158 881h0M1158 925h0M1158 1014h0M1158 882h0M1159 1018h0M1159 983h0M1159 820h0M1159 1016h0M1159 865h0M1159 935h0M1159 1007h0M1159 900h0M1160 1098h0M1160 1034h0M1160 1045h0M1160 831h0M1160 880h0M1160 912h0M1160 979h0M1161 863h0M1161 969h0M1161 1001h0M1161 1067h0M1161 1028h0M1161 1050h0M1161 1088h0M1162 897h0M1162 870h0M1162 940h0M1162 1064h0M1162 963h0M1162 1089h0M1162 931h0M1162 996h0M1162 919h0M1162 957h0M1162 932h0M1162 926h0M1162 1104h0M1162 1027h0M1162 1021h0M1162 982h0M1163 897h0M1163 837h0M1163 918h0M1163 939h0M1163 883h0M1164 822h0M1164 996h0M1164 1061h0M1164 858h0M1164 1026h0M1164 774h0M1164 994h0M1164 838h0M1164 1094h0M1164 919h0M1164 913h0M1165 836h0M1165 887h0M1165 947h0M1165 1010h0M1165 1127h0M1165 950h0M1165 925h0M1165 932h0M1165 946h0M1165 1084h0M1165 1086h0M1165 935h0M1165 955h0M1165 901h0M1166 844h0M1166 880h0M1166 930h0M1166 931h0M1166 894h0M1166 852h0M1166 838h0M1166 973h0M1166 892h0M1166 1106h0M1166 913h0M1166 950h0M1166 897h0M1166 947h0M1166 857h0M1167 844h0M1167 926h0M1167 881h0M1167 904h0M1167 874h0M1167 868h0M1168 818h0M1168 1056h0M1168 1053h0M1168 897h0M1168 1064h0M1168 1026h0M1168 1080h0M1168 990h0M1169 1030h0M1169 849h0M1169 1031h0M1169 1061h0M1169 1019h0M1169 1027h0M1169 984h0M1169 994h0M1169 862h0M1169 1107h0M1170 848h0M1170 926h0M1170 957h0M1170 1082h0M1170 905h0M1170 821h0M1170 840h0M1170 1061h0M1170 845h0M1170 1006h0M1170 898h0M1170 868h0M1170 940h0M1171 1004h0M1171 900h0M1171 890h0M1171 990h0M1171 857h0M1171 1041h0M1171 867h0M1171 1030h0M1171 829h0M1171 946h0M1172 925h0M1172 978h0M1172 1027h0M1172 1018h0M1172 1106h0M1172 880h0M1173 831h0M1173 865h0M1173 884h0M1173 927h0M1173 850h0M1173 954h0M1173 1040h0M1173 1096h0M1174 958h0M1174 963h0M1174 1160h0M1174 888h0M1174 962h0M1174 955h0M1174 1051h0M1174 879h0M1175 862h0M1175 982h0M1175 1023h0M1175 934h0M1175 1065h0M1175 851h0M1175 919h0M1175 811h0M1175 939h0M1175 1118h0M1176 951h0M1176 1018h0M1176 991h0M1176 938h0M1176 1044h0M1176 934h0M1176 1005h0M1176 869h0M1176 928h0M1176 985h0M1176 837h0M1176 988h0M1176 893h0M1177 888h0M1177 1010h0M1177 881h0M1177 951h0M1177 861h0M1177 1020h0M1177 1064h0M1177 937h0M1177 934h0M1177 1043h0M1178 931h0M1178 930h0M1178 999h0M1178 842h0M1178 971h0M1178 866h0M1178 937h0M1178 848h0M1179 990h0M1179 1053h0M1179 1120h0M1179 915h0M1179 864h0M1180 869h0M1180 876h0M1180 835h0M1180 837h0M1180 923h0M1180 922h0M1180 1007h0M1181 840h0M1181 822h0M1181 863h0M1181 947h0M1181 864h0M1182 909h0M1182 1067h0M1182 891h0M1182 931h0M1182 1031h0M1182 841h0M1182 841h0M1182 984h0M1183 906h0M1183 996h0M1183 997h0M1183 808h0M1183 925h0M1183 986h0M1183 854h0M1183 1023h0M1183 883h0M1184 910h0M1184 954h0M1184 1059h0M1184 864h0M1184 930h0M1184 1048h0M1184 1001h0M1184 813h0M1184 964h0M1184 878h0M1184 817h0M1184 956h0M1184 913h0M1185 936h0M1185 762h0M1185 891h0M1185 837h0M1185 1074h0M1185 842h0M1185 882h0M1186 971h0M1186 861h0M1186 812h0M1186 808h0M1186 925h0M1186 901h0M1186 929h0M1186 803h0M1186 859h0M1186 1056h0M1187 884h0M1187 999h0M1187 901h0M1187 938h0M1187 827h0M1187 811h0M1187 824h0M1187 1184h0M1187 915h0M1187 1014h0M1187 863h0M1188 966h0M1188 872h0M1188 1029h0M1188 985h0M1188 937h0M1188 840h0M1188 1058h0M1188 852h0M1188 898h0M1188 807h0M1188 863h0M1188 940h0M1188 833h0M1189 1020h0M1189 865h0M1189 1063h0M1189 982h0M1189 861h0M1189 816h0M1189 875h0M1189 996h0M1189 1045h0M1189 1105h0M1189 926h0M1189 920h0M1190 1028h0M1190 1048h0M1190 1073h0M1190 1068h0M1190 752h0M1190 1004h0M1190 1016h0M1190 793h0M1190 843h0M1190 1059h0M1190 1031h0M1190 993h0M1190 859h0M1191 863h0M1191 1039h0M1191 1062h0M1191 905h0M1191 1044h0M1191 855h0M1191 915h0M1191 993h0M1191 944h0M1191 935h0M1192 974h0M1192 830h0M1192 831h0M1192 938h0M1192 881h0M1192 1020h0M1192 1196h0M1192 1037h0M1192 851h0M1192 858h0M1192 1083h0M1192 971h0M1192 961h0M1193 819h0M1193 960h0M1193 935h0M1193 827h0M1193 1032h0M1193 953h0M1193 897h0M1193 1058h0M1194 1028h0M1194 886h0M1194 951h0M1194 889h0M1194 864h0M1194 890h0M1194 841h0M1194 1048h0M1194 1081h0M1194 996h0M1194 834h0M1195 1016h0M1195 877h0M1195 858h0M1195 1015h0M1195 1019h0M1195 847h0M1195 860h0M1195 905h0M1195 839h0M1195 929h0M1195 1000h0M1195 920h0M1196 929h0M1196 957h0M1196 857h0M1196 849h0M1196 1059h0M1196 908h0M1196 815h0M1196 830h0M1197 900h0M1197 1079h0M1197 852h0M1197 861h0M1197 1060h0M1197 988h0M1197 950h0M1197 1059h0M1197 1009h0M1197 1040h0M1197 1035h0M1197 816h0M1197 951h0M1197 827h0M1197 968h0M1198 983h0M1198 823h0M1198 920h0M1198 915h0M1198 833h0M1198 1082h0M1198 925h0M1198 1162h0M1198 944h0M1198 849h0M1198 1020h0M1198 845h0M1199 797h0M1199 905h0M1199 1042h0M1199 1049h0M1199 789h0M1199 932h0M1199 1062h0M1199 798h0M1199 1125h0M1199 826h0M1199 909h0M1200 799h0M1200 981h0M1200 1065h0M1200 846h0M1200 1081h0M1200 852h0M1200 1041h0M1200 1040h0M1200 912h0M1200 843h0M1200 801h0M1200 927h0M1201 1011h0M1201 831h0M1201 881h0M1201 950h0M1201 887h0M1202 867h0M1202 1025h0M1202 841h0M1202 789h0M1202 1035h0M1202 866h0M1202 749h0M1202 841h0M1202 833h0M1202 1095h0M1202 1098h0M1202 959h0M1203 841h0M1203 1047h0M1203 1013h0M1203 895h0M1203 986h0M1203 794h0M1203 996h0M1203 884h0M1204 902h0M1204 827h0M1204 857h0M1204 1041h0M1204 994h0M1204 773h0M1204 898h0M1205 1030h0M1205 1001h0M1205 1006h0M1205 828h0M1205 914h0M1205 826h0M1205 914h0M1205 890h0M1205 856h0M1205 1055h0M1205 907h0M1206 1102h0M1206 814h0M1206 1089h0M1206 1044h0M1206 1042h0M1206 1045h0M1206 991h0M1206 888h0M1206 845h0M1206 847h0M1206 895h0M1206 856h0M1206 878h0M1206 828h0M1207 1043h0M1207 936h0M1207 981h0M1207 857h0M1207 943h0M1207 977h0M1207 965h0M1207 892h0M1207 945h0M1207 1034h0M1207 964h0M1208 882h0M1208 833h0M1208 969h0M1208 821h0M1208 1042h0M1208 1016h0M1208 1079h0M1208 817h0M1208 942h0M1208 907h0M1208 811h0M1208 984h0M1208 796h0M1208 872h0M1208 930h0M1208 896h0M1209 997h0M1209 877h0M1209 1031h0M1209 976h0M1209 1066h0M1209 964h0M1209 915h0M1210 887h0M1210 805h0M1210 1166h0M1210 978h0M1210 953h0M1210 842h0M1210 807h0M1210 951h0M1210 1014h0M1210 948h0M1210 859h0M1210 983h0M1210 1044h0M1210 772h0M1210 840h0M1211 958h0M1211 821h0M1211 833h0M1211 953h0M1211 1054h0M1211 854h0M1211 1154h0M1211 856h0M1211 916h0M1211 894h0M1211 1031h0M1211 1016h0M1212 1053h0M1212 1061h0M1212 1030h0M1212 983h0M1212 1124h0M1212 803h0M1212 1029h0M1213 1053h0M1213 1022h0M1213 997h0M1213 967h0M1213 958h0M1213 812h0M1213 913h0M1213 760h0M1213 1000h0M1214 844h0M1214 1083h0M1214 752h0M1214 1057h0M1214 759h0M1214 983h0M1214 933h0M1214 915h0M1214 954h0M1214 974h0M1214 841h0M1214 917h0M1214 1043h0M1214 805h0M1214 921h0M1215 1052h0M1215 1102h0M1215 1054h0M1215 893h0M1215 900h0M1215 803h0M1215 1006h0M1215 813h0M1215 1071h0M1215 890h0M1215 853h0M1215 1084h0M1215 843h0M1215 1036h0M1216 856h0M1216 968h0M1216 823h0M1216 863h0M1216 802h0M1216 938h0M1216 1015h0M1216 915h0M1216 830h0M1217 1036h0M1217 804h0M1217 805h0M1217 827h0M1217 1039h0M1217 977h0M1217 1008h0M1217 773h0M1217 790h0M1217 804h0M1217 1024h0M1217 872h0M1217 958h0M1217 873h0M1217 791h0M1218 825h0M1218 821h0M1218 815h0M1218 944h0M1218 1031h0M1218 931h0M1218 929h0M1218 1171h0M1218 1062h0M1218 861h0M1218 815h0M1218 1105h0M1218 871h0M1218 924h0M1218 848h0M1219 968h0M1219 995h0M1219 900h0M1219 893h0M1219 1015h0M1219 832h0M1219 895h0M1219 846h0M1219 901h0M1219 854h0M1219 823h0M1219 784h0M1219 986h0M1219 798h0M1220 840h0M1220 791h0M1220 1074h0M1220 987h0M1220 894h0M1220 1077h0M1220 1084h0M1220 913h0M1220 964h0M1220 918h0M1220 911h0M1221 1084h0M1221 757h0M1221 1005h0M1221 812h0M1221 906h0M1221 935h0M1221 961h0M1221 959h0M1221 1023h0M1221 897h0M1221 888h0M1221 882h0M1221 990h0M1221 816h0M1222 715h0M1222 812h0M1222 845h0M1222 812h0M1222 926h0M1222 810h0M1222 1064h0M1222 1063h0M1222 790h0M1222 796h0M1223 1001h0M1223 811h0M1223 956h0M1223 869h0M1223 819h0M1223 826h0M1223 1044h0M1223 998h0M1223 1004h0M1223 1072h0M1224 970h0M1224 972h0M1224 899h0M1224 791h0M1224 811h0M1224 955h0M1224 805h0M1224 910h0M1224 789h0M1224 737h0M1224 967h0M1224 991h0M1224 1023h0M1225 992h0M1225 857h0M1225 894h0M1225 807h0M1225 977h0M1225 876h0M1225 800h0M1226 801h0M1226 864h0M1226 1036h0M1226 1075h0M1226 964h0M1226 960h0M1226 1022h0M1226 1116h0M1226 864h0M1226 782h0M1226 909h0M1226 1050h0M1226 929h0M1226 884h0M1226 1017h0M1226 922h0M1226 1060h0M1226 881h0M1226 822h0M1227 748h0M1227 808h0M1227 1029h0M1227 1031h0M1227 840h0M1227 1036h0M1227 960h0M1227 940h0M1227 1002h0M1227 955h0M1227 903h0M1227 843h0M1228 850h0M1228 790h0M1228 913h0M1228 848h0M1228 932h0M1228 1051h0M1228 798h0M1228 798h0M1228 875h0M1228 900h0M1228 803h0M1228 877h0M1228 737h0M1228 950h0M1228 971h0M1229 776h0M1229 1060h0M1229 678h0M1229 788h0M1229 999h0M1230 970h0M1230 924h0M1230 822h0M1230 757h0M1230 1062h0M1230 976h0M1230 787h0M1230 995h0M1230 1057h0M1230 956h0M1230 804h0M1230 1045h0M1230 858h0M1230 918h0M1231 932h0M1231 985h0M1231 807h0M1231 1017h0M1231 1028h0M1231 935h0M1231 799h0M1231 787h0M1231 1072h0M1231 780h0M1231 909h0M1232 919h0M1232 910h0M1232 898h0M1232 803h0M1232 819h0M1232 935h0M1232 1009h0M1232 845h0M1232 920h0M1232 975h0M1232 801h0M1232 821h0M1233 1057h0M1233 867h0M1233 841h0M1233 808h0M1233 845h0M1233 1002h0M1233 960h0M1233 812h0M1233 1116h0M1233 983h0M1233 801h0M1233 975h0M1233 913h0M1234 928h0M1234 962h0M1234 983h0M1234 769h0M1234 777h0M1234 789h0M1234 1015h0M1234 1039h0M1234 832h0M1234 783h0M1235 807h0M1235 827h0M1235 995h0M1235 875h0M1235 779h0M1235 981h0M1235 991h0M1235 818h0M1235 1004h0M1235 1037h0M1235 1047h0M1235 871h0M1235 1016h0M1236 1051h0M1236 1005h0M1236 1030h0M1236 991h0M1236 786h0M1236 993h0M1236 1079h0M1236 841h0M1236 801h0M1236 830h0M1236 1000h0M1237 751h0M1237 805h0M1237 785h0M1237 818h0M1237 1064h0M1237 947h0M1237 822h0M1237 893h0M1237 837h0M1237 970h0M1237 1045h0M1238 1059h0M1238 809h0M1238 1004h0M1238 929h0M1238 781h0M1238 954h0M1238 899h0M1238 869h0M1238 1048h0M1238 1051h0M1239 842h0M1239 817h0M1239 938h0M1239 769h0M1239 782h0M1239 791h0M1239 1006h0M1239 913h0M1239 1052h0M1239 953h0M1239 857h0M1239 1021h0M1240 782h0M1240 792h0M1240 828h0M1240 829h0M1240 892h0M1240 884h0M1240 950h0M1240 815h0M1240 852h0M1240 872h0M1240 804h0M1240 861h0M1240 865h0M1240 990h0M1240 844h0M1240 1020h0M1241 779h0M1241 824h0M1241 1022h0M1241 901h0M1241 1076h0M1241 1001h0M1241 804h0M1241 1014h0M1241 816h0M1242 917h0M1242 853h0M1242 810h0M1242 821h0M1242 1039h0M1242 839h0M1242 1008h0M1242 801h0M1242 1001h0M1242 1005h0M1242 1021h0M1242 904h0M1242 1007h0M1242 817h0M1243 786h0M1243 833h0M1243 973h0M1243 808h0M1243 1102h0M1243 1050h0M1243 828h0M1243 860h0M1243 807h0M1244 1007h0M1244 820h0M1244 791h0M1244 915h0M1244 861h0M1244 824h0M1244 790h0M1244 828h0M1244 865h0M1244 872h0M1244 976h0M1244 987h0M1244 845h0M1244 784h0M1244 870h0M1244 755h0M1244 794h0M1244 787h0M1244 1068h0M1244 813h0M1245 796h0M1245 762h0M1245 947h0M1245 885h0M1245 889h0M1245 877h0M1245 751h0M1245 803h0M1245 933h0M1245 948h0M1245 770h0M1245 968h0M1245 1029h0M1246 942h0M1246 1124h0M1246 1137h0M1246 1104h0M1246 766h0M1246 959h0M1246 766h0M1246 736h0M1246 1006h0M1246 968h0M1246 835h0M1246 781h0M1246 876h0M1246 830h0M1247 765h0M1247 953h0M1247 804h0M1247 769h0M1247 907h0M1247 794h0M1247 990h0M1247 836h0M1247 1021h0M1247 671h0M1247 883h0M1247 772h0M1247 1035h0M1248 845h0M1248 1049h0M1248 958h0M1248 1007h0M1248 902h0M1248 1045h0M1248 902h0M1248 719h0M1248 779h0M1248 991h0M1248 999h0M1248 918h0M1248 788h0M1248 847h0M1248 878h0M1248 939h0M1248 861h0M1248 953h0M1248 826h0M1249 826h0M1249 1052h0M1249 985h0M1249 1032h0M1249 767h0M1249 916h0M1249 973h0M1249 908h0M1249 980h0M1249 844h0M1249 771h0M1249 814h0M1249 828h0M1249 961h0M1249 892h0M1249 810h0M1250 805h0M1250 827h0M1250 820h0M1250 1036h0M1250 801h0M1250 1029h0M1250 800h0M1250 1102h0M1250 1021h0M1250 932h0M1250 892h0M1250 823h0M1250 891h0M1250 1020h0M1250 953h0M1250 854h0M1250 823h0M1251 965h0M1251 990h0M1251 861h0M1251 1016h0M1251 923h0M1251 996h0M1251 789h0M1251 809h0M1251 980h0M1251 885h0M1252 964h0M1252 961h0M1252 869h0M1252 894h0M1252 937h0M1252 791h0M1252 815h0M1252 829h0M1252 956h0M1252 803h0M1252 961h0M1252 999h0M1252 1068h0M1253 1056h0M1253 826h0M1253 779h0M1253 923h0M1253 753h0M1253 771h0M1253 1050h0M1253 1009h0M1253 950h0M1253 1029h0M1253 976h0M1253 950h0M1253 750h0M1253 824h0M1254 736h0M1254 806h0M1254 880h0M1254 832h0M1254 1065h0M1254 966h0M1254 1013h0M1254 1018h0M1254 959h0M1254 783h0M1254 921h0M1254 841h0M1254 1033h0M1255 955h0M1255 960h0M1255 1029h0M1255 996h0M1255 817h0M1255 875h0M1255 743h0M1255 825h0M1255 714h0M1255 818h0M1255 775h0M1255 779h0M1255 845h0M1256 1001h0M1256 904h0M1256 900h0M1256 866h0M1256 892h0M1256 989h0M1256 838h0M1256 989h0M1256 781h0M1256 971h0M1256 952h0M1256 843h0M1256 862h0M1256 1041h0M1256 997h0M1257 845h0M1257 963h0M1257 789h0M1257 1008h0M1257 820h0M1257 756h0M1257 756h0M1257 757h0M1257 825h0M1257 861h0M1257 806h0M1257 937h0M1257 869h0M1258 830h0M1258 877h0M1258 924h0M1258 930h0M1258 791h0M1258 670h0M1258 994h0M1258 798h0M1258 884h0M1258 781h0M1258 769h0M1258 809h0M1259 871h0M1259 943h0M1259 833h0M1259 768h0M1259 788h0M1259 863h0M1259 1027h0M1259 950h0M1259 835h0M1259 842h0M1259 808h0M1259 742h0M1259 1002h0M1259 824h0M1259 999h0M1259 929h0M1259 1012h0M1259 993h0M1259 937h0M1260 897h0M1260 980h0M1260 1050h0M1260 945h0M1260 791h0M1260 852h0M1260 875h0M1260 1122h0M1260 891h0M1260 784h0M1260 1033h0M1260 1025h0M1260 1020h0M1260 1047h0M1260 805h0M1260 893h0M1260 872h0M1261 1002h0M1261 1071h0M1261 799h0M1261 1063h0M1261 636h0M1261 851h0M1261 964h0M1261 827h0M1261 824h0M1261 1051h0M1262 875h0M1262 766h0M1262 1053h0M1262 930h0M1262 733h0M1262 1039h0M1262 937h0M1262 1000h0M1262 1013h0M1262 1046h0M1262 964h0M1262 782h0M1262 758h0M1262 1043h0M1262 805h0M1262 1000h0M1263 1028h0M1263 763h0M1263 754h0M1263 860h0M1263 742h0M1263 1014h0M1263 799h0M1263 817h0M1263 973h0M1263 998h0M1263 784h0M1263 793h0M1264 980h0M1264 981h0M1264 782h0M1264 927h0M1264 819h0M1264 1018h0M1264 788h0M1264 780h0M1264 740h0M1264 1103h0M1264 796h0M1265 796h0M1265 857h0M1265 874h0M1265 776h0M1265 1001h0M1265 1031h0M1265 772h0M1265 992h0M1265 760h0M1265 969h0M1265 861h0M1265 757h0M1265 1010h0M1266 771h0M1266 866h0M1266 980h0M1266 855h0M1266 903h0M1266 1085h0M1266 872h0M1266 1030h0M1266 916h0M1266 981h0M1266 869h0M1266 780h0M1267 1028h0M1267 822h0M1267 778h0M1267 832h0M1267 872h0M1267 849h0M1267 866h0M1267 881h0M1267 1020h0M1267 1054h0M1267 879h0M1267 840h0M1267 773h0M1268 840h0M1268 1035h0M1268 827h0M1268 939h0M1268 988h0M1268 764h0M1268 1067h0M1268 743h0M1268 975h0M1268 837h0M1268 1046h0M1268 749h0M1268 1026h0M1268 1060h0M1269 1037h0M1269 1001h0M1269 814h0M1269 1042h0M1269 954h0M1269 795h0M1269 940h0M1269 720h0M1269 995h0M1269 839h0M1269 874h0M1269 802h0M1269 810h0M1269 977h0M1269 918h0M1269 868h0M1270 753h0M1270 1026h0M1270 831h0M1270 779h0M1270 815h0M1270 797h0M1270 837h0M1270 774h0M1270 927h0M1270 927h0M1270 1004h0M1270 883h0M1270 868h0M1270 850h0M1270 993h0M1271 871h0M1271 973h0M1271 724h0M1271 970h0M1271 1042h0M1271 761h0M1271 905h0M1271 778h0M1271 639h0M1271 829h0M1272 1000h0M1272 803h0M1272 881h0M1272 1007h0M1272 997h0M1272 1023h0M1272 819h0M1272 745h0M1272 800h0M1272 878h0M1272 870h0M1272 848h0M1272 870h0M1272 879h0M1272 754h0M1272 801h0M1272 1048h0M1272 915h0M1272 780h0M1272 731h0M1272 1071h0M1272 967h0M1272 815h0M1272 763h0M1273 1012h0M1273 791h0M1273 804h0M1273 881h0M1273 799h0M1273 1001h0M1273 727h0M1273 807h0M1273 815h0M1273 1097h0M1273 1027h0M1273 950h0M1273 1029h0M1273 872h0M1274 946h0M1274 822h0M1274 962h0M1274 855h0M1274 767h0M1274 978h0M1274 827h0M1274 882h0M1274 814h0M1274 1006h0M1274 870h0M1274 773h0M1274 852h0M1274 907h0M1274 984h0M1275 1012h0M1275 885h0M1275 966h0M1275 823h0M1275 843h0M1275 864h0M1276 801h0M1276 699h0M1276 755h0M1276 757h0M1276 1040h0M1276 748h0M1276 949h0M1276 987h0M1276 821h0M1276 962h0M1276 794h0M1277 1044h0M1277 765h0M1277 743h0M1277 1008h0M1277 1068h0M1277 973h0M1277 939h0M1277 1009h0M1277 809h0M1277 1006h0M1277 854h0M1277 1043h0M1277 720h0M1277 872h0M1278 788h0M1278 1098h0M1278 989h0M1278 957h0M1278 1036h0M1278 756h0M1278 817h0M1278 938h0M1278 1023h0M1278 934h0M1278 806h0M1278 799h0M1279 817h0M1279 897h0M1279 834h0M1279 928h0M1279 935h0M1279 945h0M1279 967h0M1279 889h0M1279 976h0M1279 987h0M1279 1034h0M1279 976h0M1279 797h0M1279 820h0M1280 982h0M1280 753h0M1280 770h0M1280 866h0M1280 747h0M1280 770h0M1280 763h0M1280 752h0M1280 1021h0M1280 882h0M1280 906h0M1280 937h0M1280 780h0M1280 968h0M1280 844h0M1280 842h0M1280 805h0M1280 804h0M1281 872h0M1281 811h0M1281 844h0M1281 1009h0M1281 791h0M1281 800h0M1281 843h0M1281 940h0M1281 917h0M1281 819h0M1281 779h0M1281 929h0M1281 919h0M1281 766h0M1281 1014h0M1281 936h0M1281 878h0M1281 828h0M1282 832h0M1282 736h0M1282 855h0M1282 734h0M1282 825h0M1282 1007h0M1282 746h0M1282 955h0M1282 912h0M1282 886h0M1282 805h0M1282 916h0M1283 760h0M1283 962h0M1283 921h0M1283 970h0M1283 970h0M1283 1091h0M1283 855h0M1283 734h0M1283 820h0M1283 886h0M1283 842h0M1283 980h0M1284 850h0M1284 1054h0M1284 808h0M1284 908h0M1284 893h0M1284 853h0M1284 968h0M1284 757h0M1284 827h0M1284 970h0M1285 823h0M1285 849h0M1285 750h0M1285 971h0M1285 783h0M1285 939h0M1285 1027h0M1285 881h0M1285 913h0M1285 990h0M1285 778h0M1285 776h0M1285 944h0M1285 966h0M1285 984h0M1285 981h0M1285 1028h0M1285 813h0M1285 1051h0M1285 941h0M1285 981h0M1285 1048h0M1285 955h0M1285 998h0M1285 916h0M1285 1032h0M1286 920h0M1286 1028h0M1286 907h0M1286 804h0M1286 803h0M1286 827h0M1286 1011h0M1286 1034h0M1286 1015h0M1286 719h0M1286 872h0M1287 978h0M1287 852h0M1287 672h0M1287 978h0M1287 921h0M1287 933h0M1287 883h0M1287 995h0M1288 862h0M1288 818h0M1288 819h0M1288 924h0M1288 904h0M1288 997h0M1288 910h0M1288 1000h0M1288 856h0M1288 989h0M1288 800h0M1288 1018h0M1289 916h0M1289 726h0M1289 807h0M1289 987h0M1289 969h0M1289 920h0M1289 942h0M1289 755h0M1289 869h0M1289 797h0M1289 850h0M1289 951h0M1289 732h0M1289 780h0M1289 791h0M1290 1007h0M1290 891h0M1290 859h0M1290 1020h0M1290 811h0M1290 913h0M1290 1002h0M1290 860h0M1290 772h0M1290 968h0M1290 819h0M1290 865h0M1291 726h0M1291 948h0M1291 761h0M1291 771h0M1291 743h0M1291 857h0M1291 851h0M1291 905h0M1291 746h0M1291 907h0M1291 769h0M1291 718h0M1291 890h0M1292 833h0M1292 777h0M1292 735h0M1292 902h0M1292 837h0M1292 776h0M1292 1021h0M1292 995h0M1292 933h0M1292 808h0M1292 731h0M1292 916h0M1292 945h0M1292 780h0M1293 733h0M1293 817h0M1293 846h0M1293 831h0M1293 822h0M1293 759h0M1293 778h0M1293 1019h0M1293 989h0M1293 750h0M1293 853h0M1294 889h0M1294 837h0M1294 1009h0M1294 775h0M1294 791h0M1294 826h0M1294 904h0M1294 885h0M1294 925h0M1294 744h0M1294 792h0M1294 789h0M1295 743h0M1295 756h0M1295 952h0M1295 1020h0M1295 1062h0M1295 833h0M1295 894h0M1295 836h0M1295 979h0M1295 1016h0M1296 817h0M1296 777h0M1296 839h0M1296 871h0M1296 956h0M1296 778h0M1296 762h0M1296 723h0M1296 784h0M1296 752h0M1296 664h0M1296 949h0M1296 746h0M1296 767h0M1296 930h0M1297 928h0M1297 914h0M1297 877h0M1297 847h0M1297 672h0M1297 813h0M1297 1008h0M1297 802h0M1297 700h0M1297 754h0M1297 812h0M1297 800h0M1297 902h0M1298 856h0M1298 808h0M1298 864h0M1298 1009h0M1298 769h0M1298 658h0M1298 983h0M1298 918h0M1298 900h0M1298 733h0M1298 873h0M1298 841h0M1299 906h0M1299 837h0M1299 982h0M1299 1001h0M1299 780h0M1299 772h0M1299 1007h0M1299 822h0M1299 834h0M1299 883h0M1299 770h0M1300 735h0M1300 774h0M1300 732h0M1300 731h0M1300 776h0M1300 953h0M1300 998h0M1300 732h0M1300 805h0M1300 871h0M1300 732h0M1300 913h0M1300 793h0M1301 742h0M1301 777h0M1301 819h0M1301 1010h0M1301 991h0M1301 711h0M1301 737h0M1301 952h0M1302 944h0M1302 974h0M1302 888h0M1302 922h0M1302 775h0M1302 779h0M1302 749h0M1302 893h0M1302 907h0M1302 728h0M1302 763h0M1302 761h0M1302 768h0M1302 743h0M1302 752h0M1302 772h0M1302 948h0M1302 943h0M1303 752h0M1303 782h0M1303 753h0M1303 741h0M1303 926h0M1303 689h0M1303 686h0M1303 977h0M1303 839h0M1303 736h0M1304 839h0M1304 1117h0M1304 1035h0M1304 958h0M1304 715h0M1304 889h0M1304 883h0M1304 756h0M1304 718h0M1304 799h0M1304 927h0M1304 785h0M1304 840h0M1304 947h0M1304 914h0M1304 763h0M1304 974h0M1304 791h0M1304 899h0M1304 752h0M1304 896h0M1305 712h0M1305 931h0M1305 916h0M1305 885h0M1305 740h0M1305 926h0M1305 787h0M1305 724h0M1305 895h0M1305 762h0M1305 897h0M1306 994h0M1306 751h0M1306 754h0M1306 984h0M1306 891h0M1306 810h0M1306 736h0M1306 915h0M1306 780h0M1306 783h0M1306 832h0M1306 825h0M1306 863h0M1306 892h0M1306 920h0M1306 921h0M1307 948h0M1307 678h0M1307 888h0M1307 918h0M1307 941h0M1307 913h0M1307 744h0M1307 897h0M1307 990h0M1307 897h0M1307 696h0M1307 841h0M1307 876h0M1307 711h0M1307 1064h0M1307 946h0M1307 935h0M1307 830h0M1307 944h0M1307 921h0M1307 774h0M1308 803h0M1308 855h0M1308 959h0M1308 720h0M1308 991h0M1308 996h0M1308 767h0M1308 841h0M1308 758h0M1308 881h0M1309 978h0M1309 988h0M1309 736h0M1309 904h0M1309 755h0M1309 836h0M1309 799h0M1309 924h0M1309 747h0M1309 741h0M1309 1010h0M1309 852h0M1309 996h0M1309 862h0M1309 847h0M1309 817h0M1309 838h0M1309 825h0M1309 873h0M1310 917h0M1310 937h0M1310 799h0M1310 764h0M1310 753h0M1310 866h0M1310 707h0M1310 922h0M1310 792h0M1310 660h0M1311 789h0M1311 918h0M1311 902h0M1311 902h0M1311 849h0M1311 761h0M1311 1032h0M1311 771h0M1311 935h0M1311 786h0M1311 969h0M1311 798h0M1312 761h0M1312 896h0M1312 991h0M1312 755h0M1312 918h0M1312 903h0M1312 953h0M1312 1002h0M1312 738h0M1312 983h0M1312 939h0M1312 729h0M1312 823h0M1312 808h0M1312 910h0M1313 927h0M1313 954h0M1313 805h0M1313 796h0M1313 889h0M1313 992h0M1313 993h0M1313 720h0M1313 771h0M1313 727h0M1313 751h0M1313 735h0M1313 849h0M1313 851h0M1313 994h0M1314 987h0M1314 843h0M1314 750h0M1314 905h0M1314 680h0M1315 943h0M1315 802h0M1315 736h0M1315 934h0M1315 687h0M1315 864h0M1315 978h0M1315 969h0M1315 821h0M1315 821h0M1315 873h0M1315 980h0M1316 783h0M1316 727h0M1316 910h0M1316 914h0M1316 931h0M1316 903h0M1316 864h0M1316 755h0M1316 798h0M1316 748h0M1317 739h0M1317 743h0M1317 924h0M1317 831h0M1317 788h0M1317 902h0M1318 762h0M1318 755h0M1318 906h0M1318 887h0M1318 809h0M1318 951h0M1318 821h0M1318 937h0M1318 911h0M1318 916h0M1318 822h0M1318 749h0M1319 723h0M1319 726h0M1319 768h0M1319 831h0M1319 922h0M1319 872h0M1319 959h0M1319 715h0M1319 771h0M1319 805h0M1320 714h0M1320 765h0M1320 755h0M1320 735h0M1320 798h0M1320 869h0M1320 979h0M1320 743h0M1320 919h0M1320 873h0M1320 1020h0M1320 897h0M1320 703h0M1321 776h0M1321 862h0M1321 866h0M1321 969h0M1321 823h0M1321 764h0M1321 767h0M1321 692h0M1321 975h0M1321 806h0M1322 868h0M1322 775h0M1322 710h0M1322 1014h0M1322 831h0M1322 704h0M1322 992h0M1322 675h0M1322 928h0M1322 815h0M1322 900h0M1322 825h0M1322 947h0M1322 841h0M1323 796h0M1323 671h0M1323 919h0M1323 989h0M1324 913h0M1324 784h0M1324 998h0M1324 683h0M1324 706h0M1324 1020h0M1324 775h0M1324 977h0M1324 716h0M1324 745h0M1324 961h0M1324 848h0M1325 717h0M1325 671h0M1325 862h0M1325 941h0M1325 843h0M1325 746h0M1325 746h0M1326 763h0M1326 961h0M1326 810h0M1326 924h0M1326 723h0M1326 871h0M1326 894h0M1326 883h0M1326 916h0M1326 702h0M1326 789h0M1326 751h0M1326 732h0M1326 813h0M1326 828h0M1326 710h0M1327 883h0M1327 806h0M1327 771h0M1327 948h0M1327 913h0M1327 748h0M1327 689h0M1327 678h0M1327 1007h0M1327 840h0M1327 714h0M1327 994h0M1327 880h0M1328 709h0M1328 737h0M1328 772h0M1328 791h0M1328 726h0M1328 900h0M1328 782h0M1328 819h0M1328 1004h0M1328 747h0M1329 783h0M1329 887h0M1329 849h0M1329 683h0M1329 716h0M1329 762h0M1329 744h0M1329 901h0M1329 920h0M1329 774h0M1329 874h0M1329 921h0M1330 690h0M1330 784h0M1330 722h0M1330 751h0M1330 721h0M1330 712h0M1330 877h0M1330 712h0M1330 827h0M1331 922h0M1331 712h0M1331 682h0M1331 820h0M1331 856h0M1331 723h0M1331 695h0M1331 672h0M1331 706h0M1332 845h0M1332 732h0M1332 721h0M1332 691h0M1332 754h0M1332 885h0M1332 722h0M1332 743h0M1332 879h0M1332 936h0M1332 786h0M1332 878h0M1332 710h0M1332 740h0M1332 805h0M1332 732h0M1332 705h0M1333 767h0M1333 964h0M1333 785h0M1333 791h0M1333 807h0M1333 926h0M1333 792h0M1333 815h0M1333 724h0M1333 716h0M1333 753h0M1333 714h0M1333 762h0M1333 777h0M1334 773h0M1334 794h0M1334 953h0M1334 866h0M1334 907h0M1334 833h0M1334 808h0M1334 873h0M1334 966h0M1334 838h0M1334 785h0M1334 932h0M1335 952h0M1335 807h0M1335 765h0M1335 742h0M1335 974h0M1335 902h0M1335 801h0M1335 751h0M1335 724h0M1335 907h0M1336 779h0M1336 717h0M1336 728h0M1336 751h0M1336 763h0M1336 955h0M1336 967h0M1336 803h0M1336 767h0M1336 941h0M1336 690h0M1336 860h0M1336 790h0M1337 731h0M1337 784h0M1337 818h0M1337 920h0M1337 770h0M1337 950h0M1337 850h0M1337 684h0M1337 731h0M1337 768h0M1337 957h0M1337 696h0M1337 775h0M1337 714h0M1337 735h0M1337 717h0M1338 924h0M1338 903h0M1338 900h0M1338 771h0M1338 826h0M1338 893h0M1338 910h0M1338 815h0M1338 753h0M1338 948h0M1338 838h0M1338 688h0M1338 924h0M1338 609h0M1338 913h0M1338 830h0M1338 776h0M1338 701h0M1339 812h0M1339 922h0M1339 752h0M1339 762h0M1339 888h0M1339 849h0M1339 881h0M1339 756h0M1339 619h0M1339 879h0M1340 677h0M1340 969h0M1340 759h0M1340 720h0M1340 901h0M1340 985h0M1340 915h0M1340 734h0M1340 818h0M1340 953h0M1340 767h0M1340 744h0M1340 897h0M1340 886h0M1340 700h0M1340 990h0M1341 762h0M1341 798h0M1341 832h0M1341 914h0M1341 855h0M1341 716h0M1341 874h0M1341 798h0M1341 721h0M1341 851h0M1341 683h0M1341 736h0M1342 715h0M1342 809h0M1342 855h0M1342 806h0M1342 686h0M1343 679h0M1343 869h0M1343 773h0M1343 742h0M1343 748h0M1343 945h0M1343 770h0M1343 762h0M1343 874h0M1343 744h0M1343 1005h0M1344 709h0M1344 964h0M1344 809h0M1344 894h0M1344 913h0M1344 703h0M1345 919h0M1345 626h0M1345 662h0M1345 757h0M1345 711h0M1345 682h0M1345 842h0M1346 867h0M1346 879h0M1346 750h0M1346 902h0M1346 694h0M1346 923h0M1346 885h0M1346 727h0M1346 774h0M1346 781h0M1346 744h0M1346 806h0M1347 926h0M1347 879h0M1347 709h0M1347 664h0M1347 717h0M1347 798h0M1347 743h0M1347 738h0M1347 699h0M1347 891h0M1347 810h0M1347 755h0M1347 766h0M1348 726h0M1348 1011h0M1348 962h0M1348 878h0M1348 721h0M1348 810h0M1349 738h0M1349 815h0M1349 743h0M1349 801h0M1349 852h0M1349 692h0M1349 839h0M1349 730h0M1349 862h0M1349 939h0M1349 804h0M1349 647h0M1349 685h0M1349 948h0M1350 926h0M1350 726h0M1350 893h0M1350 819h0M1350 803h0M1350 725h0M1350 925h0M1350 844h0M1350 726h0M1350 904h0M1350 764h0M1350 802h0M1351 980h0M1351 834h0M1351 824h0M1351 881h0M1351 730h0M1351 778h0M1351 911h0M1351 962h0M1351 938h0M1351 1031h0M1351 1017h0M1351 641h0M1352 901h0M1352 953h0M1352 788h0M1352 920h0M1352 919h0M1352 829h0M1352 705h0M1352 895h0M1352 893h0M1352 917h0M1352 961h0M1352 762h0M1353 724h0M1353 788h0M1353 743h0M1353 660h0M1353 738h0M1353 867h0M1353 817h0M1353 912h0M1353 967h0M1353 691h0M1354 872h0M1354 761h0M1354 723h0M1354 960h0M1354 684h0M1354 985h0M1354 886h0M1354 842h0M1354 734h0M1354 709h0M1354 945h0M1354 739h0M1354 745h0M1355 694h0M1355 831h0M1355 679h0M1355 676h0M1355 638h0M1355 779h0M1355 684h0M1355 929h0M1355 717h0M1356 858h0M1356 862h0M1356 720h0M1356 966h0M1356 958h0M1356 766h0M1356 932h0M1356 882h0M1356 794h0M1356 729h0M1356 677h0M1356 726h0M1356 695h0M1357 702h0M1357 712h0M1357 803h0M1357 741h0M1357 911h0M1357 635h0M1357 926h0M1357 701h0M1357 692h0M1357 658h0M1357 792h0M1357 930h0M1357 906h0M1357 614h0M1358 743h0M1358 776h0M1358 817h0M1358 687h0M1358 859h0M1358 711h0M1358 736h0M1358 910h0M1358 881h0M1358 905h0M1358 713h0M1358 854h0M1358 684h0M1359 776h0M1359 691h0M1359 798h0M1359 737h0M1359 715h0M1359 723h0M1359 706h0M1359 986h0M1359 819h0M1359 855h0M1359 671h0M1359 775h0M1360 670h0M1360 717h0M1360 798h0M1360 908h0M1360 682h0M1360 741h0M1360 738h0M1361 697h0M1361 950h0M1361 720h0M1361 722h0M1361 706h0M1361 787h0M1361 755h0M1361 792h0M1361 709h0M1361 770h0M1361 757h0M1362 706h0M1362 771h0M1362 997h0M1362 892h0M1362 693h0M1362 905h0M1362 699h0M1362 645h0M1362 663h0M1362 867h0M1362 854h0M1362 847h0M1362 824h0M1363 724h0M1363 739h0M1363 815h0M1363 692h0M1363 796h0M1363 769h0M1363 832h0M1363 700h0M1363 744h0M1363 936h0M1363 1003h0M1363 776h0M1363 883h0M1363 700h0M1363 767h0M1363 880h0M1363 797h0M1363 705h0M1364 698h0M1364 728h0M1364 824h0M1364 957h0M1364 657h0M1364 855h0M1364 840h0M1364 713h0M1364 862h0M1364 860h0M1364 635h0M1364 665h0M1364 834h0M1365 889h0M1365 833h0M1365 898h0M1365 670h0M1365 709h0M1365 686h0M1365 802h0M1365 689h0M1366 855h0M1366 969h0M1366 842h0M1366 706h0M1366 870h0M1366 669h0M1366 792h0M1366 750h0M1366 689h0M1366 716h0M1366 715h0M1366 694h0M1366 850h0M1366 956h0M1366 878h0M1366 753h0M1366 744h0M1367 861h0M1367 759h0M1367 957h0M1367 678h0M1367 733h0M1367 767h0M1367 639h0M1367 717h0M1367 821h0M1367 721h0M1368 855h0M1368 923h0M1368 706h0M1368 825h0M1368 743h0M1368 694h0M1368 931h0M1368 831h0M1368 826h0M1368 899h0M1368 745h0M1368 794h0M1369 870h0M1369 633h0M1369 925h0M1369 751h0M1369 712h0M1369 917h0M1369 718h0M1370 662h0M1370 618h0M1370 873h0M1370 976h0M1370 719h0M1370 667h0M1370 835h0M1370 881h0M1370 739h0M1370 771h0M1370 907h0M1370 846h0M1370 901h0M1370 904h0M1371 900h0M1371 569h0M1371 810h0M1371 624h0M1371 799h0M1371 707h0M1371 971h0M1371 804h0M1371 744h0M1371 822h0M1371 717h0M1371 766h0M1372 887h0M1372 710h0M1372 732h0M1372 694h0M1372 972h0M1372 804h0M1372 718h0M1372 729h0M1372 872h0M1372 894h0M1372 893h0M1373 951h0M1373 760h0M1373 904h0M1373 657h0M1373 656h0M1373 1003h0M1373 716h0M1373 985h0M1373 756h0M1373 671h0M1373 811h0M1374 901h0M1374 979h0M1374 672h0M1374 909h0M1374 705h0M1374 966h0M1375 1005h0M1375 677h0M1375 869h0M1375 730h0M1375 906h0M1375 729h0M1375 781h0M1375 699h0M1375 902h0M1375 848h0M1375 732h0M1375 956h0M1376 885h0M1376 721h0M1376 876h0M1376 871h0M1376 650h0M1376 812h0M1376 1015h0M1376 946h0M1376 859h0M1376 736h0M1376 780h0M1377 756h0M1377 681h0M1377 759h0M1377 745h0M1377 752h0M1377 861h0M1377 953h0M1377 872h0M1377 778h0M1377 712h0M1377 789h0M1377 870h0M1377 874h0M1378 1086h0M1378 942h0M1378 731h0M1378 661h0M1378 745h0M1378 819h0M1378 820h0M1378 931h0M1378 903h0M1378 652h0M1379 607h0M1379 837h0M1379 854h0M1379 841h0M1379 937h0M1379 694h0M1379 814h0M1379 851h0M1379 977h0M1379 751h0M1379 746h0M1379 739h0M1379 842h0M1379 725h0M1380 766h0M1380 850h0M1380 711h0M1380 738h0M1380 707h0M1380 789h0M1380 756h0M1380 816h0M1380 735h0M1380 831h0M1381 802h0M1381 864h0M1381 723h0M1381 784h0M1381 870h0M1381 716h0M1381 634h0M1381 696h0M1381 746h0M1381 786h0M1381 665h0M1381 819h0M1382 734h0M1382 830h0M1382 910h0M1382 628h0M1382 876h0M1382 934h0M1382 668h0M1382 757h0M1382 946h0M1382 691h0M1382 827h0M1382 711h0M1382 849h0M1383 714h0M1383 810h0M1383 753h0M1383 864h0M1383 960h0M1383 647h0M1383 821h0M1383 717h0M1383 809h0M1383 735h0M1383 682h0M1383 862h0M1383 691h0M1383 872h0M1384 807h0M1384 809h0M1384 876h0M1384 696h0M1384 798h0M1384 826h0M1384 891h0M1384 899h0M1384 912h0M1384 680h0M1384 877h0M1384 685h0M1384 698h0M1385 632h0M1385 765h0M1385 904h0M1385 717h0M1385 775h0M1385 837h0M1385 620h0M1385 731h0M1385 667h0M1385 833h0M1385 702h0M1385 889h0M1385 769h0M1386 744h0M1386 726h0M1386 743h0M1386 775h0M1386 632h0M1386 692h0M1386 664h0M1387 978h0M1387 737h0M1387 964h0M1387 737h0M1387 904h0M1387 663h0M1387 668h0M1387 754h0M1387 876h0M1387 701h0M1387 683h0M1387 875h0M1387 727h0M1387 764h0M1388 658h0M1388 764h0M1388 771h0M1388 654h0M1388 948h0M1388 902h0M1388 775h0M1388 661h0M1388 674h0M1388 937h0M1388 646h0M1388 785h0M1388 948h0M1388 754h0M1388 810h0M1388 711h0M1388 777h0M1388 711h0M1388 856h0M1389 747h0M1389 797h0M1389 802h0M1389 899h0M1389 956h0M1389 899h0M1389 704h0M1389 574h0M1389 922h0M1390 837h0M1390 847h0M1390 735h0M1390 705h0M1390 939h0M1390 835h0M1390 673h0M1390 705h0M1390 869h0M1390 703h0M1390 867h0M1390 809h0M1390 664h0M1390 665h0M1391 759h0M1391 765h0M1391 825h0M1391 751h0M1391 742h0M1391 944h0M1391 749h0M1391 724h0M1391 718h0M1392 749h0M1392 846h0M1392 731h0M1392 684h0M1392 747h0M1392 864h0M1392 650h0M1392 644h0M1392 785h0M1392 698h0M1392 902h0M1392 743h0M1392 676h0M1392 752h0M1392 707h0M1393 874h0M1393 692h0M1393 860h0M1393 944h0M1393 685h0M1393 920h0M1393 725h0M1393 656h0M1393 721h0M1393 663h0M1393 696h0M1393 872h0M1393 818h0M1393 776h0M1393 925h0M1393 860h0M1393 762h0M1393 939h0M1394 879h0M1394 662h0M1394 664h0M1394 710h0M1394 730h0M1394 651h0M1394 702h0M1394 767h0M1395 862h0M1395 916h0M1395 863h0M1395 844h0M1395 814h0M1395 747h0M1395 672h0M1395 680h0M1395 732h0M1395 803h0M1396 860h0M1396 792h0M1396 768h0M1396 914h0M1396 808h0M1396 791h0M1396 741h0M1396 884h0M1397 867h0M1397 709h0M1397 695h0M1397 721h0M1397 848h0M1397 763h0M1397 811h0M1397 650h0M1397 893h0M1397 971h0M1398 709h0M1398 924h0M1398 796h0M1398 705h0M1398 664h0M1398 632h0M1398 683h0M1398 772h0M1398 728h0M1398 678h0M1398 686h0M1398 701h0M1398 866h0M1398 734h0M1398 884h0M1398 839h0M1398 719h0M1398 634h0M1398 832h0M1398 870h0M1398 963h0M1399 718h0M1399 959h0M1399 737h0M1399 658h0M1399 791h0M1399 652h0M1399 778h0M1399 721h0M1399 712h0M1399 680h0M1399 688h0M1399 820h0M1399 762h0M1399 930h0M1399 954h0M1399 754h0M1400 775h0M1400 875h0M1400 944h0M1400 828h0M1400 834h0M1400 959h0M1400 744h0M1400 833h0M1401 699h0M1401 755h0M1401 835h0M1401 963h0M1401 927h0M1401 694h0M1401 852h0M1401 683h0M1401 957h0M1401 835h0M1401 782h0M1401 815h0M1401 959h0M1402 750h0M1402 940h0M1402 647h0M1402 668h0M1402 731h0M1402 844h0M1402 853h0M1402 697h0M1402 844h0M1402 660h0M1402 609h0M1403 737h0M1403 703h0M1403 668h0M1403 677h0M1403 616h0M1403 655h0M1403 714h0M1403 773h0M1403 891h0M1403 679h0M1403 744h0M1403 749h0M1403 664h0M1403 906h0M1403 921h0M1403 653h0M1403 641h0M1403 754h0M1404 779h0M1404 764h0M1404 871h0M1404 933h0M1404 850h0M1404 715h0M1404 916h0M1404 645h0M1404 636h0M1404 735h0M1404 896h0M1404 762h0M1404 631h0M1404 654h0M1404 765h0M1404 720h0M1404 664h0M1404 710h0M1404 703h0M1405 893h0M1405 818h0M1405 530h0M1405 691h0M1405 641h0M1405 761h0M1405 858h0M1405 654h0M1405 905h0M1405 906h0M1405 692h0M1405 728h0M1405 881h0M1405 885h0M1406 872h0M1406 784h0M1406 634h0M1406 904h0M1406 913h0M1406 961h0M1406 800h0M1406 815h0M1406 768h0M1406 671h0M1406 656h0M1406 869h0M1406 891h0M1406 742h0M1407 671h0M1407 691h0M1407 797h0M1407 647h0M1407 845h0M1407 658h0M1407 670h0M1407 823h0M1407 879h0M1407 721h0M1407 901h0M1407 695h0M1408 579h0M1408 674h0M1408 626h0M1408 771h0M1408 813h0M1408 694h0M1408 660h0M1408 866h0M1408 778h0M1408 758h0M1408 698h0M1408 700h0M1409 882h0M1409 842h0M1409 852h0M1409 826h0M1409 648h0M1409 706h0M1409 816h0M1409 828h0M1409 846h0M1409 929h0M1409 886h0M1409 668h0M1409 827h0M1409 671h0M1410 631h0M1410 899h0M1410 928h0M1410 785h0M1410 650h0M1410 802h0M1410 689h0M1410 725h0M1411 745h0M1411 895h0M1411 849h0M1411 695h0M1411 719h0M1411 643h0M1411 860h0M1411 704h0M1411 769h0M1411 936h0M1411 661h0M1411 852h0M1411 882h0M1411 886h0M1412 887h0M1412 725h0M1412 655h0M1412 851h0M1412 711h0M1412 866h0M1412 792h0M1412 793h0M1412 675h0M1412 637h0M1412 899h0M1412 957h0M1413 933h0M1413 643h0M1413 866h0M1413 720h0M1413 858h0M1413 814h0M1413 618h0M1414 743h0M1414 880h0M1414 674h0M1414 819h0M1414 919h0M1414 837h0M1414 682h0M1414 821h0M1414 975h0M1414 695h0M1414 651h0M1415 695h0M1415 870h0M1415 841h0M1415 711h0M1415 786h0M1415 686h0M1415 653h0M1415 870h0M1415 731h0M1415 772h0M1415 645h0M1415 668h0M1415 719h0M1415 706h0M1415 631h0M1415 828h0M1415 684h0M1415 631h0M1415 912h0M1416 828h0M1416 904h0M1416 850h0M1416 705h0M1416 770h0M1416 821h0M1416 688h0M1416 758h0M1416 730h0M1416 716h0M1416 916h0M1416 687h0M1416 909h0M1416 804h0M1417 803h0M1417 854h0M1417 926h0M1417 667h0M1417 861h0M1417 679h0M1417 694h0M1417 690h0M1417 772h0M1417 896h0M1417 624h0M1417 831h0M1418 865h0M1418 785h0M1418 683h0M1418 674h0M1418 702h0M1418 854h0M1418 773h0M1418 745h0M1419 601h0M1419 637h0M1419 656h0M1419 865h0M1420 753h0M1420 775h0M1420 749h0M1420 650h0M1420 889h0M1420 758h0M1420 893h0M1421 795h0M1421 620h0M1421 781h0M1421 668h0M1421 732h0M1421 665h0M1421 802h0M1421 638h0M1421 703h0M1421 761h0M1421 646h0M1421 702h0M1421 640h0M1421 754h0M1421 921h0M1422 866h0M1422 679h0M1422 710h0M1422 698h0M1422 734h0M1422 631h0M1422 830h0M1422 860h0M1422 832h0M1422 897h0M1422 922h0M1422 729h0M1422 848h0M1422 791h0M1422 716h0M1422 734h0M1422 850h0M1422 615h0M1422 634h0M1422 633h0M1422 895h0M1422 805h0M1423 875h0M1423 724h0M1423 825h0M1423 882h0M1423 634h0M1423 783h0M1423 787h0M1423 678h0M1423 893h0M1423 689h0M1423 790h0M1423 668h0M1424 864h0M1424 754h0M1424 890h0M1424 829h0M1424 621h0M1424 827h0M1424 723h0M1424 665h0M1424 844h0M1424 899h0M1424 830h0M1425 726h0M1425 891h0M1425 766h0M1425 826h0M1425 945h0M1425 781h0M1425 754h0M1425 930h0M1425 645h0M1425 692h0M1425 856h0M1425 610h0M1426 880h0M1426 944h0M1426 816h0M1426 672h0M1426 842h0M1426 895h0M1426 625h0M1426 777h0M1426 830h0M1426 821h0M1426 706h0M1427 710h0M1427 696h0M1427 743h0M1427 715h0M1427 780h0M1427 737h0M1427 784h0M1427 836h0M1427 819h0M1427 929h0M1427 701h0M1427 914h0M1427 747h0M1427 762h0M1428 778h0M1428 711h0M1428 709h0M1428 850h0M1428 725h0M1428 632h0M1428 632h0M1428 903h0M1428 876h0M1428 931h0M1428 804h0M1428 898h0M1429 894h0M1429 942h0M1429 605h0M1429 817h0M1429 871h0M1429 660h0M1429 725h0M1429 854h0M1430 914h0M1430 819h0M1430 893h0M1430 817h0M1430 803h0M1430 873h0M1430 904h0M1430 619h0M1430 719h0M1430 876h0M1430 681h0M1430 716h0M1430 812h0M1430 786h0M1431 603h0M1431 746h0M1431 904h0M1431 657h0M1431 796h0M1431 709h0M1431 612h0M1431 905h0M1431 807h0M1431 749h0M1431 884h0M1431 775h0M1431 880h0M1431 827h0M1431 920h0M1431 771h0M1432 765h0M1432 751h0M1432 735h0M1432 754h0M1432 794h0M1432 908h0M1432 694h0M1432 854h0M1432 858h0M1432 775h0M1433 672h0M1433 789h0M1433 877h0M1433 727h0M1433 632h0M1433 651h0M1434 731h0M1434 930h0M1434 796h0M1434 794h0M1434 695h0M1434 869h0M1434 637h0M1434 626h0M1434 636h0M1434 730h0M1434 627h0M1434 663h0M1435 723h0M1435 757h0M1435 661h0M1435 619h0M1435 738h0M1435 821h0M1435 876h0M1435 709h0M1435 682h0M1436 861h0M1436 857h0M1436 868h0M1436 880h0M1436 793h0M1436 747h0M1436 749h0M1436 822h0M1436 862h0M1436 762h0M1436 704h0M1436 693h0M1436 741h0M1436 870h0M1437 796h0M1437 889h0M1437 842h0M1437 608h0M1437 608h0M1437 787h0M1437 846h0M1437 872h0M1437 820h0M1437 666h0M1437 775h0M1437 816h0M1437 695h0M1438 883h0M1438 721h0M1438 679h0M1438 811h0M1438 793h0M1438 903h0M1438 737h0M1438 755h0M1438 842h0M1438 695h0M1439 865h0M1439 924h0M1439 606h0M1439 618h0M1439 685h0M1439 899h0M1439 799h0M1439 577h0M1439 658h0M1439 572h0M1439 897h0M1439 775h0M1439 643h0M1439 871h0M1439 664h0M1439 642h0M1439 679h0M1439 628h0M1439 749h0M1439 625h0M1439 599h0M1439 773h0M1440 659h0M1440 650h0M1440 666h0M1440 715h0M1440 664h0M1440 846h0M1440 837h0M1440 751h0M1440 664h0M1440 611h0M1440 772h0M1441 736h0M1441 706h0M1441 679h0M1441 608h0M1441 706h0M1441 691h0M1441 909h0M1441 711h0M1441 870h0M1441 609h0M1441 624h0M1441 798h0M1442 884h0M1442 786h0M1442 769h0M1442 884h0M1442 613h0M1442 922h0M1442 628h0M1443 654h0M1443 675h0M1443 746h0M1443 676h0M1443 733h0M1444 881h0M1444 620h0M1444 840h0M1444 671h0M1444 619h0M1444 815h0M1444 663h0M1444 794h0M1444 641h0M1445 721h0M1445 615h0M1445 648h0M1445 741h0M1445 612h0M1445 793h0M1445 832h0M1445 871h0M1445 800h0M1446 643h0M1446 784h0M1446 613h0M1446 899h0M1447 703h0M1447 733h0M1447 909h0M1447 669h0M1447 844h0M1448 586h0M1448 755h0M1448 868h0M1448 785h0M1448 817h0M1448 637h0M1448 611h0M1448 830h0M1448 691h0M1448 721h0M1448 827h0M1448 689h0M1448 870h0M1448 709h0M1448 615h0M1449 831h0M1449 937h0M1449 668h0M1449 703h0M1449 638h0M1449 712h0M1449 784h0M1450 801h0M1450 756h0M1450 611h0M1450 696h0M1450 893h0M1450 856h0M1450 663h0M1450 574h0M1450 745h0M1451 884h0M1451 710h0M1451 499h0M1451 644h0M1451 620h0M1451 724h0M1451 853h0M1451 656h0M1451 664h0M1451 815h0M1451 897h0M1451 756h0M1451 612h0M1451 655h0M1451 672h0M1452 711h0M1452 832h0M1452 717h0M1452 832h0M1452 722h0M1452 834h0M1452 641h0M1452 618h0M1452 669h0M1452 809h0M1452 627h0M1452 714h0M1452 606h0M1452 612h0M1452 910h0M1453 590h0M1453 749h0M1453 845h0M1453 790h0M1453 683h0M1453 887h0M1453 898h0M1453 772h0M1453 612h0M1453 800h0M1453 686h0M1453 886h0M1454 860h0M1454 695h0M1454 768h0M1454 649h0M1454 830h0M1454 723h0M1454 627h0M1454 838h0M1454 612h0M1454 558h0M1454 612h0M1454 648h0M1454 612h0M1454 635h0M1455 899h0M1455 685h0M1455 714h0M1455 631h0M1455 809h0M1455 663h0M1455 891h0M1455 921h0M1455 609h0M1455 655h0M1455 783h0M1455 752h0M1455 748h0M1455 730h0M1456 628h0M1456 817h0M1456 690h0M1456 587h0M1456 635h0M1456 733h0M1456 790h0M1456 623h0M1456 596h0M1457 621h0M1457 875h0M1457 771h0M1457 628h0M1457 852h0M1457 845h0M1458 858h0M1458 834h0M1458 620h0M1458 662h0M1458 826h0M1458 669h0M1458 691h0M1458 831h0M1458 680h0M1458 619h0M1458 626h0M1458 901h0M1458 823h0M1458 638h0M1459 708h0M1459 624h0M1459 792h0M1459 624h0M1459 855h0M1459 689h0M1459 811h0M1459 713h0M1459 730h0M1459 775h0M1460 829h0M1460 720h0M1460 675h0M1460 799h0M1460 890h0M1460 714h0M1460 625h0M1460 500h0M1460 809h0M1460 645h0M1460 906h0M1460 811h0M1460 861h0M1461 623h0M1461 685h0M1461 662h0M1461 793h0M1461 591h0M1461 654h0M1461 777h0M1461 729h0M1461 865h0M1461 882h0M1461 723h0M1462 840h0M1462 895h0M1462 629h0M1462 831h0M1462 666h0M1462 687h0M1462 649h0M1462 821h0M1462 878h0M1462 551h0M1462 644h0M1462 612h0M1462 547h0M1462 829h0M1463 682h0M1463 710h0M1463 674h0M1463 782h0M1463 612h0M1463 791h0M1463 730h0M1463 724h0M1463 862h0M1464 859h0M1464 636h0M1464 826h0M1464 800h0M1464 649h0M1464 688h0M1464 655h0M1464 784h0M1464 565h0M1464 834h0M1464 860h0M1464 731h0M1464 812h0M1465 669h0M1465 913h0M1465 860h0M1465 598h0M1465 762h0M1465 837h0M1465 794h0M1465 617h0M1465 596h0M1465 701h0M1465 868h0M1465 665h0M1465 676h0M1466 679h0M1466 753h0M1466 631h0M1466 636h0M1466 793h0M1466 651h0M1466 600h0M1466 609h0M1466 641h0M1466 667h0M1466 679h0M1467 716h0M1467 635h0M1467 664h0M1467 848h0M1467 779h0M1467 775h0M1467 622h0M1467 811h0M1467 851h0M1467 705h0M1468 656h0M1468 832h0M1468 629h0M1468 634h0M1468 727h0M1468 635h0M1468 818h0M1468 897h0M1468 832h0M1468 628h0M1468 664h0M1468 757h0M1468 810h0M1469 778h0M1469 779h0M1469 654h0M1469 885h0M1469 856h0M1469 657h0M1469 514h0M1469 874h0M1469 620h0M1470 715h0M1470 605h0M1470 743h0M1470 793h0M1470 652h0M1470 634h0M1470 600h0M1471 796h0M1471 629h0M1471 672h0M1471 666h0M1471 876h0M1471 639h0M1471 692h0M1471 783h0M1471 656h0M1471 626h0M1471 630h0M1471 659h0M1472 688h0M1472 827h0M1472 689h0M1472 430h0M1472 681h0M1472 809h0M1472 867h0M1472 588h0M1472 749h0M1472 728h0M1472 609h0M1472 853h0M1473 562h0M1473 596h0M1473 643h0M1473 772h0M1473 604h0M1473 836h0M1473 654h0M1473 639h0M1473 670h0M1473 702h0M1473 664h0M1474 687h0M1474 693h0M1474 680h0M1474 845h0M1474 580h0M1474 909h0M1475 715h0M1475 840h0M1475 661h0M1475 720h0M1475 699h0M1475 885h0M1475 646h0M1475 865h0M1475 766h0M1475 688h0M1476 657h0M1476 829h0M1476 643h0M1476 823h0M1476 880h0M1476 731h0M1476 641h0M1476 857h0M1476 772h0M1476 650h0M1476 705h0M1477 683h0M1477 704h0M1477 876h0M1477 846h0M1477 851h0M1477 612h0M1477 656h0M1477 693h0M1477 857h0M1477 625h0M1477 768h0M1477 617h0M1478 542h0M1478 609h0M1478 576h0M1478 661h0M1478 843h0M1478 830h0M1478 793h0M1479 779h0M1479 695h0M1479 769h0M1479 669h0M1479 864h0M1479 811h0M1479 674h0M1479 874h0M1479 695h0M1479 878h0M1479 784h0M1480 646h0M1480 597h0M1480 883h0M1480 766h0M1480 661h0M1480 620h0M1480 724h0M1480 680h0M1480 696h0M1480 877h0M1480 849h0M1480 783h0M1480 584h0M1480 697h0M1480 686h0M1481 703h0M1481 710h0M1481 792h0M1481 815h0M1481 685h0M1481 773h0M1481 790h0M1481 648h0M1481 721h0M1481 624h0M1481 562h0M1481 529h0M1481 723h0M1481 602h0M1481 821h0M1482 682h0M1482 717h0M1482 643h0M1482 597h0M1482 842h0M1482 581h0M1482 617h0M1482 660h0M1482 682h0M1482 586h0M1482 619h0M1483 593h0M1483 819h0M1483 809h0M1483 595h0M1483 603h0M1483 595h0M1483 769h0M1483 640h0M1483 805h0M1483 743h0M1483 814h0M1484 703h0M1484 680h0M1484 540h0M1484 855h0M1484 605h0M1484 545h0M1484 616h0M1484 747h0M1484 835h0M1484 668h0M1484 687h0M1485 677h0M1485 764h0M1485 609h0M1485 632h0M1485 588h0M1485 603h0M1485 743h0M1485 782h0M1485 749h0M1485 582h0M1485 832h0M1485 557h0M1485 666h0M1485 607h0M1485 584h0M1485 671h0M1485 735h0M1485 584h0M1486 598h0M1486 639h0M1486 710h0M1486 653h0M1486 825h0M1486 730h0M1486 681h0M1486 675h0M1486 591h0M1486 589h0M1486 585h0M1486 679h0M1486 828h0M1486 783h0M1487 825h0M1487 635h0M1487 845h0M1487 585h0M1487 807h0M1487 882h0M1487 758h0M1487 623h0M1487 623h0M1487 740h0M1487 832h0M1487 810h0M1487 821h0M1488 846h0M1488 590h0M1488 785h0M1488 713h0M1488 629h0M1489 580h0M1489 590h0M1489 502h0M1489 709h0M1489 654h0M1489 771h0M1489 674h0M1489 691h0M1489 661h0M1489 855h0M1489 593h0M1489 769h0M1489 715h0M1489 840h0M1489 609h0M1489 821h0M1489 622h0M1490 683h0M1490 826h0M1490 674h0M1490 649h0M1490 795h0M1490 823h0M1490 730h0M1490 647h0M1490 714h0M1490 767h0M1490 831h0M1490 844h0M1491 619h0M1491 830h0M1491 811h0M1491 718h0M1491 832h0M1491 584h0M1491 657h0M1491 873h0M1491 760h0M1491 624h0M1491 815h0M1491 801h0M1491 756h0M1492 752h0M1492 809h0M1492 713h0M1492 646h0M1492 652h0M1492 763h0M1492 838h0M1492 676h0M1493 825h0M1493 765h0M1493 742h0M1493 630h0M1493 608h0M1493 658h0M1493 834h0M1493 591h0M1493 691h0M1493 750h0M1493 604h0M1494 749h0M1494 592h0M1494 565h0M1494 672h0M1494 734h0M1494 562h0M1494 584h0M1494 589h0M1494 740h0M1495 603h0M1495 847h0M1495 832h0M1495 545h0M1495 649h0M1495 604h0M1495 672h0M1495 644h0M1495 673h0M1495 679h0M1496 741h0M1496 601h0M1496 641h0M1496 632h0M1496 637h0M1496 821h0M1496 734h0M1496 604h0M1496 848h0M1496 732h0M1497 628h0M1497 862h0M1497 738h0M1497 619h0M1497 904h0M1497 796h0M1497 600h0M1497 799h0M1497 776h0M1497 759h0M1497 795h0M1498 739h0M1498 774h0M1498 632h0M1498 574h0M1498 832h0M1498 657h0M1499 807h0M1499 712h0M1499 842h0M1499 651h0M1499 767h0M1499 779h0M1499 716h0M1499 840h0M1499 573h0M1499 752h0M1499 543h0M1500 595h0M1500 667h0M1500 572h0M1500 650h0M1500 561h0M1500 654h0M1500 613h0M1500 804h0M1500 559h0M1500 576h0M1500 626h0M1500 513h0M1500 569h0M1501 584h0M1501 598h0M1501 828h0M1501 840h0M1501 806h0M1501 716h0M1501 730h0M1501 817h0M1501 592h0M1501 552h0M1501 783h0M1501 859h0M1501 747h0M1501 588h0M1501 763h0M1501 807h0M1501 733h0M1501 678h0M1501 759h0M1502 656h0M1502 571h0M1502 824h0M1502 555h0M1502 680h0M1502 714h0M1502 803h0M1502 857h0M1502 783h0M1502 773h0M1502 634h0M1502 742h0M1502 562h0M1503 582h0M1503 862h0M1503 744h0M1503 722h0M1503 723h0M1503 619h0M1503 800h0M1503 596h0M1503 744h0M1503 811h0M1503 703h0M1503 843h0M1503 675h0M1504 623h0M1504 678h0M1504 752h0M1504 632h0M1504 604h0M1504 690h0M1504 603h0M1504 546h0M1504 582h0M1504 683h0M1504 589h0M1504 800h0M1504 665h0M1505 696h0M1505 663h0M1505 867h0M1505 716h0M1505 831h0M1505 617h0M1505 637h0M1505 581h0M1505 580h0M1505 793h0M1505 640h0M1505 593h0M1505 658h0M1505 840h0M1505 631h0M1505 863h0M1505 818h0M1505 751h0M1506 579h0M1506 597h0M1506 557h0M1506 590h0M1506 687h0M1506 589h0M1506 615h0M1506 795h0M1506 799h0M1506 586h0M1506 795h0M1506 620h0M1507 689h0M1507 712h0M1507 729h0M1507 602h0M1507 750h0M1507 829h0M1507 661h0M1507 748h0M1507 844h0M1507 601h0M1507 671h0M1507 708h0M1507 696h0M1508 886h0M1508 591h0M1508 588h0M1508 712h0M1508 783h0M1508 594h0M1508 570h0M1508 631h0M1508 769h0M1508 771h0M1509 581h0M1509 664h0M1509 818h0M1509 655h0M1509 643h0M1509 721h0M1509 665h0M1509 632h0M1509 777h0M1509 701h0M1509 646h0M1509 585h0M1509 715h0M1509 812h0M1509 577h0M1509 574h0M1509 831h0M1509 538h0M1509 833h0M1510 766h0M1510 722h0M1510 790h0M1510 625h0M1510 598h0M1510 836h0M1511 728h0M1511 716h0M1511 727h0M1511 612h0M1511 586h0M1511 633h0M1511 610h0M1511 848h0M1512 836h0M1512 628h0M1512 684h0M1512 603h0M1512 845h0M1512 765h0M1512 710h0M1512 599h0M1512 563h0M1513 707h0M1513 592h0M1513 645h0M1513 719h0M1513 656h0M1513 625h0M1513 748h0M1513 692h0M1513 707h0M1513 632h0M1513 758h0M1513 801h0M1513 669h0M1513 717h0M1513 836h0M1513 667h0M1513 579h0M1514 665h0M1514 759h0M1514 767h0M1514 619h0M1514 586h0M1514 589h0M1514 598h0M1514 728h0M1514 563h0M1515 787h0M1515 578h0M1515 783h0M1515 644h0M1515 669h0M1515 633h0M1515 624h0M1515 592h0M1515 585h0M1515 800h0M1515 739h0M1516 600h0M1516 605h0M1516 774h0M1516 680h0M1516 753h0M1516 662h0M1516 549h0M1516 703h0M1516 638h0M1516 589h0M1516 736h0M1516 573h0M1517 760h0M1517 779h0M1517 611h0M1517 721h0M1517 615h0M1517 666h0M1517 866h0M1517 717h0M1517 580h0M1518 850h0M1518 670h0M1518 733h0M1518 591h0M1518 805h0M1518 636h0M1518 821h0M1518 670h0M1518 634h0M1518 824h0M1518 631h0M1519 728h0M1519 613h0M1519 817h0M1519 571h0M1519 815h0M1519 712h0M1519 837h0M1519 633h0M1519 846h0M1519 677h0M1520 679h0M1520 837h0M1520 800h0M1520 702h0M1520 567h0M1520 806h0M1520 794h0M1520 695h0M1520 650h0M1520 577h0M1520 744h0M1521 572h0M1521 675h0M1521 746h0M1521 824h0M1521 651h0M1521 613h0M1521 792h0M1521 777h0M1521 714h0M1521 667h0M1521 762h0M1521 790h0M1522 760h0M1522 794h0M1522 808h0M1522 551h0M1522 796h0M1522 671h0M1522 655h0M1522 594h0M1522 593h0M1522 592h0M1522 809h0M1522 767h0M1522 730h0M1522 583h0M1522 781h0M1522 567h0M1522 614h0M1523 806h0M1523 601h0M1523 584h0M1523 747h0M1523 588h0M1523 700h0M1523 747h0M1523 796h0M1523 644h0M1523 604h0M1523 772h0M1523 550h0M1523 581h0M1523 555h0M1524 565h0M1524 576h0M1524 557h0M1524 781h0M1524 792h0M1524 850h0M1524 703h0M1524 841h0M1524 587h0M1524 530h0M1524 649h0M1524 767h0M1524 593h0M1524 660h0M1525 859h0M1525 775h0M1525 663h0M1525 740h0M1525 700h0M1525 688h0M1525 597h0M1525 673h0M1525 661h0M1525 695h0M1525 876h0M1525 589h0M1525 799h0M1525 819h0M1525 639h0M1526 822h0M1526 748h0M1526 601h0M1526 551h0M1526 760h0M1526 784h0M1526 589h0M1526 736h0M1526 590h0M1527 798h0M1527 602h0M1527 826h0M1527 801h0M1527 566h0M1527 564h0M1527 651h0M1527 614h0M1527 673h0M1528 780h0M1528 616h0M1528 571h0M1528 668h0M1528 810h0M1528 622h0M1528 745h0M1528 841h0M1528 535h0M1528 772h0M1528 785h0M1528 607h0M1528 826h0M1528 756h0M1528 599h0M1529 633h0M1529 636h0M1529 593h0M1529 693h0M1529 808h0M1529 691h0M1529 510h0M1529 651h0M1529 480h0M1529 808h0M1529 581h0M1529 566h0M1530 575h0M1530 680h0M1530 776h0M1530 793h0M1530 704h0M1530 716h0M1530 593h0M1530 612h0M1530 754h0M1530 786h0M1530 669h0M1531 603h0M1531 676h0M1531 666h0M1531 692h0M1531 732h0M1531 826h0M1531 814h0M1532 606h0M1532 652h0M1532 640h0M1532 839h0M1532 737h0M1532 714h0M1532 748h0M1532 578h0M1532 558h0M1532 734h0M1532 575h0M1532 768h0M1533 750h0M1533 667h0M1533 762h0M1533 738h0M1533 699h0M1533 749h0M1533 607h0M1533 569h0M1533 520h0M1533 759h0M1533 599h0M1533 563h0M1533 577h0M1533 816h0M1533 805h0M1534 737h0M1534 616h0M1534 728h0M1534 598h0M1534 704h0M1534 593h0M1534 821h0M1534 713h0M1534 553h0M1535 661h0M1535 629h0M1535 580h0M1535 866h0M1535 579h0M1535 606h0M1535 803h0M1535 556h0M1535 747h0M1535 673h0M1535 753h0M1535 722h0M1535 570h0M1535 571h0M1535 558h0M1535 649h0M1535 646h0M1535 692h0M1535 595h0M1536 623h0M1536 601h0M1536 768h0M1536 542h0M1536 701h0M1537 714h0M1537 810h0M1537 707h0M1537 818h0M1537 611h0M1537 623h0M1537 588h0M1537 768h0M1537 751h0M1537 608h0M1537 742h0M1537 610h0M1537 570h0M1537 818h0M1537 595h0M1537 457h0M1537 641h0M1538 595h0M1538 575h0M1538 783h0M1538 759h0M1538 594h0M1538 770h0M1538 627h0M1538 620h0M1538 506h0M1538 561h0M1538 719h0M1539 573h0M1539 695h0M1539 746h0M1539 600h0M1539 559h0M1539 547h0M1539 562h0M1539 580h0M1539 557h0M1539 578h0M1539 590h0M1539 512h0M1539 634h0M1540 576h0M1540 645h0M1540 816h0M1540 721h0M1540 569h0M1540 692h0M1540 583h0M1540 630h0M1540 702h0M1540 689h0M1540 588h0M1540 561h0M1540 620h0M1540 770h0M1541 745h0M1541 782h0M1541 815h0M1541 514h0M1541 637h0M1541 709h0M1541 553h0M1541 819h0M1541 482h0M1541 744h0M1542 634h0M1542 772h0M1542 707h0M1542 622h0M1542 465h0M1542 637h0M1542 748h0M1542 631h0M1542 444h0M1542 789h0M1542 786h0M1543 741h0M1543 596h0M1543 853h0M1543 562h0M1543 566h0M1543 726h0M1543 641h0M1543 582h0M1543 621h0M1543 708h0M1543 783h0M1543 711h0M1543 548h0M1543 722h0M1543 717h0M1544 701h0M1544 738h0M1544 621h0M1544 612h0M1544 668h0M1544 519h0M1544 564h0M1544 699h0M1544 565h0M1544 598h0M1544 781h0M1544 608h0M1544 564h0M1544 680h0M1544 654h0M1545 665h0M1545 720h0M1545 526h0M1545 810h0M1545 708h0M1545 717h0M1545 563h0M1545 607h0M1545 557h0M1545 721h0M1545 745h0M1545 626h0M1545 698h0M1545 652h0M1546 658h0M1546 727h0M1546 673h0M1546 554h0M1546 634h0M1546 618h0M1546 543h0M1546 574h0M1546 552h0M1547 570h0M1547 539h0M1547 748h0M1547 629h0M1547 628h0M1547 586h0M1547 756h0M1547 715h0M1547 739h0M1547 550h0M1547 570h0M1547 586h0M1547 785h0M1547 743h0M1548 716h0M1548 767h0M1548 505h0M1548 622h0M1548 468h0M1548 792h0M1548 764h0M1548 797h0M1548 654h0M1548 576h0M1548 618h0M1548 678h0M1548 726h0M1549 596h0M1549 624h0M1549 567h0M1549 650h0M1549 547h0M1550 644h0M1550 713h0M1550 678h0M1550 742h0M1550 532h0M1550 804h0M1550 598h0M1550 572h0M1550 556h0M1550 806h0M1550 803h0M1550 708h0M1550 932h0M1550 412h0M1551 582h0M1551 720h0M1551 575h0M1551 609h0M1551 718h0M1551 711h0M1551 664h0M1551 755h0M1552 582h0M1552 687h0M1552 555h0M1552 583h0M1552 594h0M1552 570h0M1552 794h0M1552 622h0M1553 743h0M1553 711h0M1553 632h0M1553 600h0M1553 701h0M1553 798h0M1553 822h0M1553 695h0M1553 581h0M1553 600h0M1553 705h0M1553 571h0M1554 691h0M1554 727h0M1554 646h0M1554 723h0M1554 612h0M1554 611h0M1555 805h0M1555 561h0M1555 551h0M1555 591h0M1555 803h0M1555 751h0M1555 706h0M1555 605h0M1555 719h0M1555 650h0M1555 649h0M1555 731h0M1555 705h0M1555 699h0M1555 728h0M1556 581h0M1556 525h0M1556 716h0M1556 697h0M1556 798h0M1556 611h0M1556 740h0M1556 750h0M1556 581h0M1556 750h0M1556 724h0M1556 683h0M1556 535h0M1556 640h0M1556 769h0M1557 633h0M1557 689h0M1557 763h0M1557 746h0M1557 708h0M1557 584h0M1557 562h0M1557 671h0M1558 564h0M1558 536h0M1558 670h0M1558 541h0M1558 805h0M1558 625h0M1558 762h0M1558 709h0M1558 624h0M1558 536h0M1559 787h0M1559 597h0M1559 560h0M1559 612h0M1559 568h0M1559 588h0M1559 620h0M1559 775h0M1559 688h0M1559 651h0M1559 652h0M1559 720h0M1559 667h0M1559 797h0M1559 588h0M1560 789h0M1560 622h0M1560 704h0M1560 520h0M1560 770h0M1560 586h0M1560 770h0M1560 688h0M1560 785h0M1560 665h0M1560 800h0M1560 658h0M1560 510h0M1560 568h0M1560 572h0M1560 773h0M1560 795h0M1560 548h0M1560 588h0M1561 535h0M1561 591h0M1561 747h0M1561 624h0M1561 764h0M1561 763h0M1561 701h0M1561 771h0M1561 791h0M1562 638h0M1562 808h0M1562 845h0M1562 531h0M1562 685h0M1562 552h0M1562 492h0M1562 530h0M1562 657h0M1562 1008h0M1563 544h0M1563 538h0M1563 649h0M1563 514h0M1563 533h0M1563 577h0M1563 577h0M1563 770h0M1563 768h0M1563 523h0M1564 520h0M1564 766h0M1564 754h0M1564 793h0M1564 771h0M1564 431h0M1564 702h0M1564 560h0M1564 588h0M1564 636h0M1564 568h0M1565 626h0M1565 528h0M1565 617h0M1565 603h0M1565 701h0M1565 660h0M1565 582h0M1565 746h0M1565 676h0M1565 788h0M1565 731h0M1565 691h0M1566 631h0M1566 766h0M1566 591h0M1566 504h0M1566 739h0M1566 546h0M1566 531h0M1566 579h0M1566 534h0M1566 574h0M1566 612h0M1566 569h0M1566 711h0M1566 614h0M1566 549h0M1567 657h0M1567 495h0M1567 576h0M1567 563h0M1567 609h0M1567 674h0M1567 631h0M1567 557h0M1567 611h0M1567 771h0M1568 667h0M1568 722h0M1568 730h0M1568 628h0M1568 547h0M1568 608h0M1568 480h0M1568 719h0M1568 794h0M1568 521h0M1568 720h0M1569 674h0M1569 759h0M1569 679h0M1569 583h0M1569 655h0M1569 740h0M1569 737h0M1569 824h0M1570 611h0M1570 806h0M1570 609h0M1570 736h0M1570 622h0M1570 694h0M1570 596h0M1570 509h0M1570 558h0M1570 650h0M1570 736h0M1570 760h0M1570 568h0M1571 519h0M1571 554h0M1571 557h0M1571 549h0M1571 579h0M1571 522h0M1571 565h0M1571 819h0M1572 635h0M1572 559h0M1572 517h0M1572 680h0M1572 405h0M1572 701h0M1572 565h0M1572 758h0M1572 742h0M1572 520h0M1572 616h0M1572 600h0M1572 783h0M1572 526h0M1572 757h0M1572 775h0M1572 645h0M1573 534h0M1573 675h0M1573 739h0M1573 642h0M1573 790h0M1573 528h0M1573 672h0M1573 575h0M1573 529h0M1573 779h0M1573 601h0M1573 801h0M1573 635h0M1573 750h0M1573 659h0M1573 638h0M1574 734h0M1574 674h0M1574 667h0M1574 713h0M1574 659h0M1574 739h0M1575 610h0M1575 739h0M1575 761h0M1575 675h0M1575 574h0M1575 728h0M1575 648h0M1575 681h0M1575 776h0M1575 683h0M1576 508h0M1576 586h0M1576 646h0M1576 791h0M1576 517h0M1576 563h0M1576 672h0M1576 713h0M1576 671h0M1576 492h0M1576 474h0M1576 759h0M1577 637h0M1577 541h0M1577 610h0M1577 699h0M1577 478h0M1577 639h0M1577 665h0M1577 673h0M1577 748h0M1578 765h0M1578 581h0M1578 520h0M1578 613h0M1578 609h0M1578 568h0M1578 822h0M1578 699h0M1578 624h0M1578 786h0M1578 570h0M1578 679h0M1578 598h0M1578 524h0M1578 519h0M1578 640h0M1578 547h0M1579 712h0M1579 533h0M1579 620h0M1579 619h0M1579 770h0M1579 739h0M1579 586h0M1579 727h0M1579 729h0M1579 510h0M1580 782h0M1580 685h0M1580 630h0M1580 552h0M1580 556h0M1580 750h0M1580 751h0M1580 690h0M1580 629h0M1580 719h0M1580 605h0M1580 559h0M1580 591h0M1581 546h0M1581 659h0M1581 727h0M1581 661h0M1581 625h0M1581 567h0M1581 753h0M1581 573h0M1581 607h0M1581 639h0M1581 546h0M1581 822h0M1581 678h0M1581 558h0M1582 555h0M1582 511h0M1582 758h0M1582 527h0M1582 557h0M1582 564h0M1582 628h0M1582 550h0M1582 501h0M1582 602h0M1582 823h0M1582 572h0M1582 674h0M1582 585h0M1582 748h0M1582 742h0M1583 602h0M1583 618h0M1583 583h0M1583 533h0M1583 656h0M1583 526h0M1583 546h0M1583 686h0M1583 566h0M1583 396h0M1583 558h0M1583 521h0M1583 577h0M1583 763h0M1583 572h0M1583 522h0M1583 554h0M1583 637h0M1583 714h0M1583 764h0M1584 626h0M1584 540h0M1584 504h0M1584 588h0M1584 597h0M1584 575h0M1584 730h0M1584 547h0M1584 742h0M1584 571h0M1584 746h0M1584 606h0M1585 676h0M1585 772h0M1585 670h0M1585 505h0M1585 545h0M1585 644h0M1585 601h0M1586 541h0M1586 530h0M1586 703h0M1586 502h0M1586 753h0M1586 692h0M1586 549h0M1586 625h0M1586 745h0M1586 616h0M1586 532h0M1586 779h0M1587 511h0M1587 734h0M1587 529h0M1587 561h0M1587 700h0M1587 723h0M1587 466h0M1587 672h0M1587 633h0M1587 707h0M1587 645h0M1587 707h0M1588 728h0M1588 594h0M1588 619h0M1588 530h0M1588 706h0M1588 589h0M1589 654h0M1589 689h0M1589 507h0M1589 548h0M1589 754h0M1589 772h0M1589 728h0M1590 555h0M1590 692h0M1590 679h0M1590 745h0M1590 530h0M1590 529h0M1590 713h0M1590 494h0M1590 588h0M1590 740h0M1590 497h0M1590 594h0M1591 554h0M1591 724h0M1591 470h0M1591 603h0M1591 578h0M1591 469h0M1591 549h0M1591 487h0M1592 532h0M1592 571h0M1592 585h0M1592 605h0M1592 631h0M1592 706h0M1592 587h0M1592 726h0M1592 716h0M1592 593h0M1592 538h0M1592 539h0M1592 786h0M1593 546h0M1593 550h0M1593 785h0M1593 619h0M1593 618h0M1593 514h0M1593 504h0M1593 750h0M1593 531h0M1593 504h0M1593 503h0M1593 509h0M1593 542h0M1593 564h0M1594 695h0M1594 728h0M1594 549h0M1594 804h0M1594 561h0M1594 765h0M1594 617h0M1594 518h0M1594 668h0M1594 541h0M1594 620h0M1594 561h0M1594 711h0M1594 556h0M1594 694h0M1594 627h0M1594 620h0M1594 572h0M1595 770h0M1595 694h0M1595 726h0M1595 695h0M1595 595h0M1595 578h0M1595 616h0M1595 551h0M1595 624h0M1595 465h0M1595 612h0M1595 532h0M1595 517h0M1595 581h0M1595 774h0M1595 708h0M1595 599h0M1595 645h0M1596 522h0M1596 736h0M1596 502h0M1596 682h0M1596 366h0M1596 544h0M1596 501h0M1596 768h0M1596 700h0M1596 540h0M1597 706h0M1597 648h0M1597 716h0M1597 587h0M1597 535h0M1597 652h0M1597 625h0M1597 775h0M1597 738h0M1597 526h0M1597 673h0M1597 658h0M1597 703h0M1597 559h0M1597 713h0M1597 603h0M1598 749h0M1598 620h0M1598 652h0M1598 512h0M1598 749h0M1598 633h0M1598 717h0M1598 701h0M1598 551h0M1598 712h0M1598 648h0M1598 589h0M1598 625h0M1598 598h0M1599 775h0M1599 642h0M1599 708h0M1599 670h0M1599 615h0M1599 596h0M1600 730h0M1600 629h0M1600 526h0M1600 525h0M1600 763h0M1600 498h0M1600 580h0M1600 590h0M1600 506h0M1600 727h0M1600 689h0M1600 510h0M1600 724h0M1600 785h0M1600 632h0M1601 569h0M1601 765h0M1601 755h0M1601 625h0M1601 577h0M1601 636h0M1601 584h0M1601 689h0M1601 543h0M1601 515h0M1601 713h0M1601 527h0M1601 755h0M1602 517h0M1602 693h0M1602 680h0M1602 557h0M1602 565h0M1602 734h0M1602 646h0M1602 696h0M1602 520h0M1602 493h0M1602 590h0M1603 681h0M1603 698h0M1603 482h0M1603 534h0M1603 639h0M1604 751h0M1604 547h0M1604 712h0M1604 546h0M1604 668h0M1604 511h0M1604 603h0M1604 632h0M1604 533h0M1604 758h0M1604 705h0M1605 617h0M1605 666h0M1605 631h0M1605 610h0M1605 647h0M1605 523h0M1605 546h0M1605 736h0M1605 761h0M1605 583h0M1605 809h0M1605 690h0M1605 705h0M1605 617h0M1606 660h0M1606 526h0M1606 547h0M1606 788h0M1606 495h0M1606 778h0M1606 546h0M1606 693h0M1606 679h0M1606 735h0M1606 461h0M1607 637h0M1607 484h0M1607 551h0M1607 790h0M1607 571h0M1607 695h0M1607 708h0M1607 496h0M1607 564h0M1607 587h0M1607 709h0M1607 684h0M1607 677h0M1607 518h0M1608 649h0M1608 715h0M1608 764h0M1608 522h0M1608 564h0M1608 565h0M1608 544h0M1608 480h0M1608 726h0M1608 769h0M1608 500h0M1609 765h0M1609 650h0M1609 567h0M1609 546h0M1609 515h0M1609 586h0M1609 672h0M1609 564h0M1609 719h0M1609 688h0M1609 568h0M1609 483h0M1609 507h0M1609 547h0M1609 549h0M1609 631h0M1610 658h0M1610 588h0M1610 666h0M1610 699h0M1610 624h0M1610 648h0M1610 733h0M1610 668h0M1610 669h0M1610 612h0M1610 722h0M1610 574h0M1610 513h0M1610 604h0M1610 728h0M1610 563h0M1610 574h0M1611 609h0M1611 762h0M1611 497h0M1611 557h0M1611 714h0M1611 625h0M1611 548h0M1611 631h0M1611 504h0M1611 576h0M1611 649h0M1612 607h0M1612 514h0M1612 711h0M1612 505h0M1612 686h0M1613 630h0M1613 675h0M1613 561h0M1613 471h0M1613 634h0M1613 754h0M1613 596h0M1613 360h0M1613 608h0M1613 475h0M1613 646h0M1614 509h0M1614 635h0M1614 536h0M1614 728h0M1614 620h0M1614 696h0M1614 556h0M1614 608h0M1614 538h0M1614 669h0M1614 488h0M1614 663h0M1614 639h0M1615 702h0M1615 588h0M1615 551h0M1615 717h0M1615 750h0M1615 714h0M1615 499h0M1615 548h0M1615 491h0M1615 585h0M1615 514h0M1615 730h0M1616 500h0M1616 710h0M1616 569h0M1616 485h0M1616 726h0M1616 524h0M1616 794h0M1616 498h0M1616 690h0M1616 711h0M1616 639h0M1616 514h0M1616 552h0M1617 491h0M1617 759h0M1617 681h0M1617 753h0M1617 562h0M1617 783h0M1617 584h0M1617 475h0M1617 612h0M1617 737h0M1617 716h0M1617 622h0M1617 638h0M1617 592h0M1617 720h0M1617 525h0M1617 657h0M1617 731h0M1617 643h0M1618 549h0M1618 503h0M1618 669h0M1618 456h0M1618 713h0M1618 689h0M1618 555h0M1618 783h0M1618 586h0M1618 555h0M1618 664h0M1618 731h0M1618 503h0M1618 553h0M1618 504h0M1618 635h0M1618 706h0M1619 508h0M1619 546h0M1619 681h0M1619 631h0M1619 694h0M1619 500h0M1619 657h0M1619 745h0M1619 375h0M1619 623h0M1619 743h0M1620 677h0M1620 513h0M1620 680h0M1620 545h0M1620 791h0M1620 746h0M1620 548h0M1620 499h0M1620 460h0M1621 503h0M1621 576h0M1621 729h0M1621 699h0M1621 675h0M1621 633h0M1621 723h0M1621 735h0M1621 508h0M1621 540h0M1621 537h0M1621 616h0M1621 567h0M1621 749h0M1621 723h0M1622 480h0M1622 534h0M1622 546h0M1622 592h0M1622 479h0M1622 574h0M1622 514h0M1622 640h0M1622 754h0M1622 511h0M1622 556h0M1622 610h0M1622 753h0M1622 540h0M1622 601h0M1623 767h0M1623 709h0M1623 721h0M1623 489h0M1623 580h0M1623 700h0M1623 763h0M1623 688h0M1623 545h0M1623 568h0M1623 497h0M1623 472h0M1623 689h0M1623 519h0M1623 546h0M1623 744h0M1623 588h0M1623 571h0M1623 762h0M1623 551h0M1623 613h0M1623 509h0M1624 497h0M1624 701h0M1624 568h0M1624 766h0M1624 695h0M1624 547h0M1624 562h0M1624 671h0M1624 728h0M1624 524h0M1624 654h0M1624 503h0M1624 682h0M1624 697h0M1625 551h0M1625 534h0M1625 539h0M1625 686h0M1625 587h0M1625 646h0M1625 742h0M1625 712h0M1625 575h0M1625 532h0M1625 544h0M1625 684h0M1625 530h0M1626 529h0M1626 704h0M1626 651h0M1626 615h0M1626 722h0M1626 593h0M1626 660h0M1626 475h0M1627 478h0M1627 697h0M1627 751h0M1627 556h0M1627 542h0M1627 487h0M1627 464h0M1627 445h0M1627 735h0M1627 644h0M1627 707h0M1627 632h0M1627 680h0M1627 549h0M1627 590h0M1627 761h0M1628 502h0M1628 500h0M1628 623h0M1628 609h0M1628 490h0M1628 750h0M1628 731h0M1628 582h0M1628 705h0M1628 549h0M1628 495h0M1628 552h0M1628 673h0M1628 705h0M1628 523h0M1628 499h0M1629 726h0M1629 505h0M1629 548h0M1629 502h0M1629 726h0M1629 602h0M1629 532h0M1629 581h0M1629 513h0M1629 560h0M1629 513h0M1629 532h0M1629 598h0M1629 651h0M1629 756h0M1629 526h0M1629 659h0M1630 497h0M1630 513h0M1630 483h0M1630 497h0M1630 738h0M1630 645h0M1630 473h0M1630 490h0M1630 709h0M1630 606h0M1630 622h0M1630 639h0M1631 570h0M1631 658h0M1631 658h0M1631 684h0M1631 422h0M1631 726h0M1631 527h0M1631 620h0M1631 519h0M1631 701h0M1631 479h0M1631 749h0M1631 747h0M1631 393h0M1631 497h0M1632 493h0M1632 494h0M1632 746h0M1632 547h0M1632 761h0M1632 587h0M1632 541h0M1632 477h0M1632 590h0M1632 512h0M1632 620h0M1632 548h0M1633 717h0M1633 489h0M1633 646h0M1633 685h0M1633 723h0M1633 329h0M1633 479h0M1633 648h0M1633 615h0M1633 514h0M1633 484h0M1633 612h0M1634 612h0M1634 742h0M1634 685h0M1634 561h0M1634 669h0M1634 660h0M1634 496h0M1634 729h0M1634 482h0M1634 568h0M1634 489h0M1634 731h0M1634 621h0M1634 576h0M1634 699h0M1635 474h0M1635 459h0M1635 572h0M1635 482h0M1635 653h0M1635 619h0M1635 491h0M1635 574h0M1635 694h0M1635 678h0M1635 735h0M1635 581h0M1635 494h0M1635 699h0M1636 510h0M1636 467h0M1636 653h0M1636 624h0M1636 608h0M1636 455h0M1636 537h0M1636 353h0M1636 719h0M1636 669h0M1636 469h0M1636 695h0M1636 558h0M1636 542h0M1637 541h0M1637 560h0M1637 624h0M1637 475h0M1637 663h0M1637 539h0M1637 501h0M1637 630h0M1638 464h0M1638 669h0M1638 573h0M1638 538h0M1638 669h0M1638 656h0M1638 675h0M1638 470h0M1638 499h0M1638 575h0M1638 472h0M1638 546h0M1638 487h0M1639 566h0M1639 543h0M1639 434h0M1639 432h0M1639 515h0M1639 725h0M1639 762h0M1639 620h0M1639 697h0M1639 708h0M1639 456h0M1639 864h0M1639 586h0M1639 513h0M1639 719h0M1639 765h0M1639 705h0M1639 713h0M1639 607h0M1639 539h0M1640 479h0M1640 562h0M1640 685h0M1640 643h0M1640 595h0M1640 475h0M1641 542h0M1641 583h0M1641 424h0M1641 710h0M1641 547h0M1641 689h0M1641 626h0M1641 627h0M1641 475h0M1641 590h0M1641 485h0M1641 487h0M1641 652h0M1642 460h0M1642 661h0M1642 704h0M1642 499h0M1642 492h0M1642 447h0M1642 547h0M1642 450h0M1642 515h0M1642 467h0M1643 586h0M1643 555h0M1643 436h0M1643 474h0M1643 468h0M1643 485h0M1643 510h0M1643 565h0M1643 507h0M1643 386h0M1643 682h0M1643 664h0M1643 626h0M1643 547h0M1643 574h0M1643 736h0M1643 455h0M1643 732h0M1643 565h0M1643 702h0M1643 481h0M1643 725h0M1643 577h0M1644 581h0M1644 503h0M1644 547h0M1644 519h0M1644 737h0M1644 647h0M1644 649h0M1644 670h0M1644 529h0M1644 421h0M1644 536h0M1644 471h0M1644 520h0M1644 723h0M1645 583h0M1645 553h0M1645 723h0M1645 541h0M1645 525h0M1645 619h0M1645 685h0M1645 464h0M1645 463h0M1645 594h0M1645 739h0M1645 648h0M1645 686h0M1646 505h0M1646 491h0M1646 734h0M1646 665h0M1646 562h0M1646 485h0M1646 567h0M1646 510h0M1646 715h0M1646 528h0M1646 705h0M1646 644h0M1646 433h0M1646 626h0M1646 705h0M1646 500h0M1647 487h0M1647 733h0M1647 701h0M1647 626h0M1647 571h0M1647 630h0M1647 525h0M1647 647h0M1647 504h0M1647 608h0M1647 657h0M1647 660h0M1647 602h0M1648 542h0M1648 544h0M1648 583h0M1648 719h0M1648 689h0M1648 743h0M1648 493h0M1648 477h0M1648 748h0M1648 293h0M1648 512h0M1648 489h0M1648 617h0M1648 485h0M1648 599h0M1648 506h0M1648 466h0M1648 501h0M1648 616h0M1649 458h0M1649 481h0M1649 714h0M1649 562h0M1649 560h0M1649 473h0M1649 522h0M1649 539h0M1649 585h0M1649 572h0M1650 542h0M1650 493h0M1650 591h0M1650 466h0M1650 461h0M1650 577h0M1650 471h0M1650 341h0M1650 731h0M1650 641h0M1650 566h0M1651 517h0M1651 505h0M1651 632h0M1651 737h0M1651 695h0M1651 541h0M1651 529h0M1651 712h0M1651 637h0M1651 494h0M1651 724h0M1652 688h0M1652 483h0M1652 458h0M1652 509h0M1652 472h0M1652 569h0M1652 662h0M1652 548h0M1652 459h0M1652 712h0M1652 700h0M1652 519h0M1652 684h0M1652 489h0M1653 498h0M1653 486h0M1653 524h0M1653 540h0M1653 451h0M1653 655h0M1653 731h0M1653 729h0M1653 711h0M1653 701h0M1653 545h0M1653 473h0M1653 494h0M1653 650h0M1653 713h0M1653 531h0M1653 537h0M1653 477h0M1653 699h0M1653 658h0M1653 569h0M1653 658h0M1654 637h0M1654 625h0M1654 461h0M1654 444h0M1654 459h0M1654 556h0M1654 656h0M1654 528h0M1654 559h0M1654 471h0M1654 676h0M1654 521h0M1654 474h0M1654 726h0M1654 430h0M1655 681h0M1655 617h0M1655 474h0M1655 704h0M1655 646h0M1655 595h0M1655 463h0M1655 658h0M1655 532h0M1655 512h0M1655 452h0M1655 607h0M1655 450h0M1656 393h0M1656 740h0M1656 422h0M1656 492h0M1656 539h0M1656 511h0M1656 454h0M1656 515h0M1656 674h0M1656 647h0M1656 659h0M1656 587h0M1656 729h0M1657 563h0M1657 570h0M1657 398h0M1657 522h0M1657 548h0M1657 806h0M1657 473h0M1657 468h0M1657 530h0M1657 455h0M1657 664h0M1658 717h0M1658 532h0M1658 681h0M1658 520h0M1658 525h0M1658 631h0M1658 540h0M1658 443h0M1659 635h0M1659 545h0M1659 582h0M1659 551h0M1659 537h0M1659 557h0M1659 693h0M1659 557h0M1659 688h0M1659 622h0M1659 546h0M1659 618h0M1659 679h0M1659 605h0M1659 487h0M1660 569h0M1660 448h0M1660 668h0M1660 481h0M1660 585h0M1660 606h0M1660 461h0M1660 519h0M1660 691h0M1660 503h0M1660 480h0M1660 632h0M1660 442h0M1660 651h0M1660 586h0M1660 487h0M1661 539h0M1661 466h0M1661 524h0M1661 636h0M1661 313h0M1661 567h0M1661 521h0M1661 420h0M1661 646h0M1662 608h0M1662 692h0M1662 547h0M1662 350h0M1662 643h0M1662 532h0M1662 654h0M1662 550h0M1662 435h0M1662 490h0M1662 435h0M1662 466h0M1662 474h0M1662 629h0M1662 502h0M1662 647h0M1662 711h0M1662 590h0M1663 708h0M1663 467h0M1663 674h0M1663 754h0M1663 694h0M1663 516h0M1663 493h0M1663 324h0M1663 537h0M1663 669h0M1663 694h0M1663 590h0M1664 665h0M1664 493h0M1664 745h0M1664 473h0M1664 704h0M1664 578h0M1664 561h0M1664 638h0M1664 686h0M1664 499h0M1664 485h0M1664 699h0M1664 474h0M1664 559h0M1664 697h0M1664 428h0M1665 502h0M1665 470h0M1665 547h0M1665 510h0M1665 684h0M1665 451h0M1665 652h0M1665 602h0M1665 667h0M1665 487h0M1665 673h0M1666 290h0M1666 360h0M1666 610h0M1666 557h0M1666 691h0M1666 503h0M1666 421h0M1666 583h0M1666 514h0M1666 500h0M1666 628h0M1666 485h0M1666 601h0M1666 509h0M1666 659h0M1666 447h0M1666 490h0M1667 605h0M1667 684h0M1667 552h0M1667 717h0M1667 576h0M1667 578h0M1667 560h0M1667 557h0M1667 512h0M1667 659h0M1667 487h0M1667 438h0M1668 515h0M1668 685h0M1668 530h0M1668 494h0M1668 637h0M1668 546h0M1668 637h0M1668 623h0M1668 668h0M1668 502h0M1669 509h0M1669 480h0M1669 451h0M1669 451h0M1669 595h0M1669 458h0M1669 610h0M1670 608h0M1670 516h0M1670 525h0M1670 634h0M1670 495h0M1670 496h0M1670 446h0M1670 730h0M1670 516h0M1670 551h0M1670 579h0M1670 538h0M1670 531h0M1670 653h0M1670 491h0M1671 452h0M1671 471h0M1671 506h0M1671 405h0M1671 478h0M1671 512h0M1671 639h0M1671 553h0M1671 532h0M1671 617h0M1671 720h0M1671 586h0M1672 418h0M1672 609h0M1672 471h0M1672 671h0M1672 476h0M1672 516h0M1672 525h0M1672 522h0M1672 330h0M1672 611h0M1672 422h0M1672 697h0M1672 494h0M1673 536h0M1673 407h0M1673 524h0M1673 582h0M1673 582h0M1673 393h0M1673 548h0M1673 532h0M1673 554h0M1674 535h0M1674 513h0M1674 459h0M1674 545h0M1674 637h0M1674 469h0M1674 454h0M1674 539h0M1674 401h0M1674 678h0M1674 455h0M1675 440h0M1675 482h0M1675 669h0M1675 434h0M1675 439h0M1675 550h0M1675 470h0M1675 432h0M1675 482h0M1675 510h0M1675 432h0M1675 530h0M1675 533h0M1675 536h0M1675 693h0M1675 538h0M1675 704h0M1675 539h0M1676 690h0M1676 645h0M1676 527h0M1676 663h0M1676 503h0M1676 618h0M1676 500h0M1676 630h0M1676 668h0M1676 530h0M1676 654h0M1676 603h0M1676 649h0M1677 677h0M1677 661h0M1677 605h0M1677 567h0M1677 437h0M1677 505h0M1677 531h0M1677 506h0M1677 637h0M1677 417h0M1677 520h0M1677 516h0M1678 524h0M1678 665h0M1678 574h0M1678 445h0M1678 591h0M1678 522h0M1678 664h0M1678 661h0M1678 535h0M1678 626h0M1678 461h0M1678 454h0M1678 639h0M1678 514h0M1679 695h0M1679 505h0M1679 528h0M1679 509h0M1679 445h0M1679 648h0M1679 533h0M1679 616h0M1680 490h0M1680 481h0M1680 435h0M1680 559h0M1680 447h0M1680 467h0M1680 647h0M1680 670h0M1680 453h0M1680 534h0M1680 575h0M1680 641h0M1681 431h0M1681 434h0M1681 722h0M1681 548h0M1681 653h0M1681 421h0M1681 666h0M1681 469h0M1681 551h0M1681 694h0M1681 619h0M1681 435h0M1681 459h0M1682 500h0M1682 472h0M1682 422h0M1682 605h0M1682 495h0M1682 526h0M1682 609h0M1682 667h0M1682 623h0M1682 697h0M1682 662h0M1683 642h0M1683 518h0M1683 500h0M1683 455h0M1683 585h0M1683 613h0M1683 422h0M1683 648h0M1683 501h0M1683 434h0M1683 693h0M1683 506h0M1683 573h0M1683 651h0M1684 475h0M1684 431h0M1684 515h0M1684 622h0M1684 435h0M1684 581h0M1684 516h0M1684 465h0M1684 646h0M1684 497h0M1684 660h0M1684 672h0M1684 570h0M1684 617h0M1685 457h0M1685 609h0M1685 478h0M1685 464h0M1685 677h0M1685 559h0M1685 551h0M1685 537h0M1685 513h0M1685 384h0M1685 428h0M1685 431h0M1685 513h0M1685 457h0M1685 527h0M1685 598h0M1685 670h0M1685 506h0M1685 598h0M1685 494h0M1685 565h0M1686 487h0M1686 606h0M1686 409h0M1686 584h0M1686 464h0M1686 592h0M1686 645h0M1686 528h0M1686 510h0M1686 437h0M1687 642h0M1687 545h0M1687 633h0M1687 667h0M1687 641h0M1687 708h0M1687 514h0M1687 420h0M1687 421h0M1688 426h0M1688 456h0M1688 488h0M1688 405h0M1688 513h0M1688 447h0M1688 663h0M1688 412h0M1688 429h0M1688 513h0M1688 505h0M1688 636h0M1688 595h0M1688 464h0M1688 471h0M1688 412h0M1688 534h0M1689 446h0M1689 408h0M1689 492h0M1689 434h0M1689 465h0M1689 632h0M1689 459h0M1689 501h0M1689 422h0M1689 413h0M1690 637h0M1690 626h0M1690 499h0M1690 492h0M1690 649h0M1690 407h0M1690 687h0M1691 345h0M1691 452h0M1691 525h0M1691 436h0M1691 486h0M1691 456h0M1691 665h0M1692 508h0M1692 680h0M1692 468h0M1692 620h0M1692 570h0M1692 422h0M1692 545h0M1692 661h0M1692 450h0M1692 524h0M1692 657h0M1692 622h0M1693 446h0M1693 674h0M1693 672h0M1693 500h0M1693 642h0M1693 653h0M1693 683h0M1693 627h0M1693 647h0M1693 492h0M1693 448h0M1694 418h0M1694 582h0M1694 574h0M1694 575h0M1694 407h0M1694 482h0M1694 603h0M1694 559h0M1694 482h0M1694 405h0M1694 621h0M1694 602h0M1694 509h0M1695 540h0M1695 472h0M1695 552h0M1695 598h0M1695 601h0M1695 413h0M1695 679h0M1695 466h0M1695 410h0M1695 335h0M1696 658h0M1696 468h0M1696 566h0M1696 516h0M1696 669h0M1696 665h0M1696 458h0M1696 542h0M1696 549h0M1697 355h0M1697 456h0M1697 613h0M1697 590h0M1697 461h0M1697 533h0M1697 532h0M1697 443h0M1697 490h0M1697 610h0M1697 654h0M1698 613h0M1698 545h0M1698 599h0M1698 417h0M1698 603h0M1698 480h0M1699 445h0M1699 561h0M1699 491h0M1699 503h0M1699 685h0M1699 421h0M1699 638h0M1699 483h0M1699 467h0M1699 530h0M1699 459h0M1699 587h0M1699 407h0M1699 567h0M1700 451h0M1700 495h0M1700 564h0M1700 552h0M1700 644h0M1700 484h0M1700 491h0M1700 388h0M1700 486h0M1700 628h0M1700 422h0M1700 561h0M1700 422h0M1700 644h0M1700 567h0M1700 461h0M1700 527h0M1701 441h0M1701 609h0M1701 720h0M1701 468h0M1701 412h0M1701 620h0M1701 518h0M1701 453h0M1701 481h0M1701 505h0M1701 647h0M1701 641h0M1702 567h0M1702 465h0M1702 656h0M1702 606h0M1702 634h0M1702 696h0M1702 509h0M1702 550h0M1703 606h0M1703 469h0M1703 602h0M1703 346h0M1703 427h0M1703 445h0M1703 605h0M1703 393h0M1703 450h0M1703 572h0M1703 431h0M1703 677h0M1703 445h0M1704 492h0M1704 333h0M1704 609h0M1704 544h0M1704 551h0M1704 609h0M1704 620h0M1704 475h0M1704 428h0M1704 445h0M1704 433h0M1705 521h0M1705 527h0M1705 607h0M1705 483h0M1705 383h0M1705 478h0M1705 482h0M1705 622h0M1705 542h0M1705 662h0M1705 443h0M1705 547h0M1706 534h0M1706 479h0M1706 648h0M1706 548h0M1706 410h0M1706 434h0M1706 533h0M1706 448h0M1706 518h0M1707 486h0M1707 597h0M1707 654h0M1707 616h0M1707 572h0M1707 519h0M1707 482h0M1707 584h0M1707 566h0M1707 488h0M1707 377h0M1707 364h0M1707 469h0M1708 635h0M1708 612h0M1708 501h0M1708 635h0M1708 622h0M1708 644h0M1708 512h0M1708 509h0M1708 454h0M1708 658h0M1708 437h0M1708 525h0M1708 343h0M1708 637h0M1708 484h0M1709 567h0M1709 619h0M1709 478h0M1709 422h0M1709 594h0M1709 524h0M1709 415h0M1709 487h0M1709 619h0M1709 460h0M1709 541h0M1709 644h0M1709 593h0M1710 466h0M1710 516h0M1710 414h0M1710 563h0M1710 481h0M1710 524h0M1710 573h0M1710 489h0M1710 512h0M1710 607h0M1710 506h0M1711 659h0M1711 456h0M1711 415h0M1711 526h0M1711 662h0M1711 537h0M1711 526h0M1712 581h0M1712 655h0M1712 626h0M1712 548h0M1712 587h0M1712 431h0M1712 410h0M1712 569h0M1712 480h0M1712 589h0M1713 522h0M1713 588h0M1713 525h0M1713 525h0M1713 448h0M1713 509h0M1713 499h0M1713 560h0M1713 518h0M1713 452h0M1714 417h0M1714 395h0M1714 648h0M1714 643h0M1714 663h0M1714 574h0M1714 625h0M1714 491h0M1714 506h0M1715 487h0M1715 643h0M1715 477h0M1715 571h0M1715 562h0M1715 590h0M1715 596h0M1715 446h0M1715 602h0M1715 417h0M1715 501h0M1716 491h0M1716 594h0M1716 598h0M1716 482h0M1716 340h0M1716 668h0M1716 423h0M1716 616h0M1716 408h0M1716 412h0M1716 550h0M1716 408h0M1716 535h0M1716 421h0M1716 534h0M1716 624h0M1716 628h0M1716 500h0M1716 557h0M1717 613h0M1717 581h0M1717 427h0M1717 630h0M1717 398h0M1717 582h0M1717 414h0M1717 492h0M1717 456h0M1717 572h0M1717 548h0M1717 614h0M1718 528h0M1718 512h0M1718 470h0M1718 598h0M1718 414h0M1718 430h0M1718 446h0M1718 661h0M1718 590h0M1718 396h0M1718 609h0M1718 452h0M1719 565h0M1719 581h0M1719 479h0M1719 608h0M1719 402h0M1719 575h0M1719 437h0M1719 628h0M1719 496h0M1720 380h0M1720 551h0M1720 613h0M1720 590h0M1720 583h0M1720 626h0M1720 636h0M1720 579h0M1720 647h0M1720 568h0M1720 586h0M1721 535h0M1721 497h0M1721 565h0M1721 608h0M1721 461h0M1721 406h0M1721 585h0M1721 524h0M1721 521h0M1721 398h0M1722 483h0M1722 473h0M1722 416h0M1722 482h0M1722 440h0M1722 658h0M1722 480h0M1723 441h0M1723 652h0M1723 426h0M1723 522h0M1723 613h0M1723 580h0M1723 491h0M1723 421h0M1723 436h0M1723 462h0M1724 624h0M1724 446h0M1724 535h0M1724 483h0M1724 433h0M1724 567h0M1724 579h0M1724 610h0M1724 496h0M1724 440h0M1725 484h0M1725 587h0M1725 405h0M1725 549h0M1725 439h0M1725 468h0M1725 624h0M1725 562h0M1725 645h0M1725 434h0M1725 428h0M1725 498h0M1725 348h0M1726 541h0M1726 491h0M1726 626h0M1726 640h0M1726 425h0M1726 362h0M1726 447h0M1726 600h0M1726 445h0M1726 419h0M1726 422h0M1726 472h0M1727 589h0M1727 503h0M1727 590h0M1727 472h0M1727 443h0M1727 528h0M1727 422h0M1727 427h0M1727 617h0M1727 413h0M1727 466h0M1728 563h0M1728 551h0M1728 606h0M1728 487h0M1728 579h0M1728 413h0M1728 465h0M1728 372h0M1728 383h0M1728 430h0M1728 587h0M1728 563h0M1728 450h0M1728 504h0M1728 462h0M1728 559h0M1729 450h0M1729 551h0M1729 554h0M1729 442h0M1729 450h0M1729 573h0M1729 386h0M1729 352h0M1729 698h0M1729 506h0M1729 423h0M1729 316h0M1729 407h0M1730 462h0M1730 502h0M1730 424h0M1730 550h0M1730 430h0M1730 470h0M1730 572h0M1730 491h0M1730 592h0M1730 421h0M1730 514h0M1730 507h0M1731 528h0M1731 489h0M1731 427h0M1731 541h0M1731 495h0M1731 625h0M1731 521h0M1731 565h0M1731 534h0M1731 438h0M1732 464h0M1732 627h0M1732 520h0M1732 583h0M1732 529h0M1732 472h0M1732 476h0M1732 506h0M1732 410h0M1732 423h0M1732 425h0M1732 553h0M1732 555h0M1733 387h0M1733 633h0M1733 471h0M1733 554h0M1733 603h0M1733 540h0M1733 488h0M1733 607h0M1733 589h0M1733 529h0M1733 423h0M1733 553h0M1733 402h0M1733 591h0M1734 635h0M1734 419h0M1734 549h0M1734 326h0M1734 456h0M1734 563h0M1734 574h0M1734 422h0M1734 403h0M1734 556h0M1734 518h0M1734 380h0M1734 404h0M1734 604h0M1735 516h0M1735 567h0M1735 548h0M1735 578h0M1735 372h0M1735 437h0M1735 479h0M1735 401h0M1736 567h0M1736 615h0M1736 479h0M1736 533h0M1736 509h0M1736 431h0M1736 522h0M1736 441h0M1736 406h0M1736 501h0M1736 424h0M1736 571h0M1736 436h0M1736 279h0M1737 604h0M1737 494h0M1737 441h0M1737 529h0M1737 589h0M1737 567h0M1737 587h0M1737 454h0M1738 420h0M1738 540h0M1738 441h0M1738 510h0M1738 461h0M1738 562h0M1738 399h0M1738 541h0M1738 603h0M1738 642h0M1739 373h0M1739 506h0M1739 559h0M1739 326h0M1739 503h0M1739 442h0M1740 345h0M1740 423h0M1740 475h0M1740 558h0M1740 417h0M1740 597h0M1740 569h0M1740 570h0M1740 397h0M1740 557h0M1741 500h0M1741 548h0M1741 420h0M1741 388h0M1741 456h0M1741 594h0M1741 404h0M1741 613h0M1741 480h0M1742 483h0M1742 581h0M1742 597h0M1742 451h0M1742 495h0M1742 378h0M1742 420h0M1742 586h0M1742 424h0M1742 557h0M1742 594h0M1742 544h0M1742 549h0M1742 407h0M1742 618h0M1743 338h0M1743 420h0M1743 396h0M1743 487h0M1743 505h0M1743 588h0M1743 500h0M1743 583h0M1743 452h0M1743 447h0M1743 378h0M1744 398h0M1744 490h0M1744 571h0M1744 607h0M1744 525h0M1744 430h0M1744 446h0M1744 551h0M1744 403h0M1744 533h0M1744 406h0M1745 592h0M1745 677h0M1745 518h0M1745 389h0M1745 527h0M1745 450h0M1745 450h0M1745 430h0M1745 418h0M1745 400h0M1745 559h0M1745 600h0M1746 505h0M1746 381h0M1746 603h0M1746 496h0M1746 532h0M1746 590h0M1746 489h0M1746 437h0M1746 457h0M1746 594h0M1746 452h0M1746 624h0M1746 453h0M1747 412h0M1747 389h0M1747 602h0M1747 506h0M1747 554h0M1747 566h0M1747 380h0M1747 586h0M1747 493h0M1747 623h0M1747 543h0M1748 599h0M1748 514h0M1748 597h0M1748 566h0M1748 449h0M1748 391h0M1748 527h0M1748 531h0M1749 513h0M1749 607h0M1749 417h0M1749 433h0M1749 598h0M1749 436h0M1749 387h0M1749 415h0M1749 467h0M1749 459h0M1749 446h0M1750 482h0M1750 540h0M1750 444h0M1750 408h0M1750 461h0M1750 424h0M1750 603h0M1750 603h0M1750 453h0M1751 481h0M1751 609h0M1751 587h0M1751 384h0M1751 440h0M1751 590h0M1751 376h0M1751 540h0M1751 495h0M1751 334h0M1751 509h0M1751 539h0M1751 462h0M1751 385h0M1752 447h0M1752 600h0M1752 515h0M1752 419h0M1752 327h0M1752 576h0M1752 437h0M1752 595h0M1752 400h0M1752 417h0M1752 470h0M1752 441h0M1752 571h0M1752 489h0M1752 558h0M1753 526h0M1753 553h0M1753 520h0M1753 437h0M1753 383h0M1753 536h0M1753 552h0M1753 434h0M1753 397h0M1753 501h0M1753 441h0M1753 462h0M1753 566h0M1753 567h0M1753 419h0M1754 426h0M1754 411h0M1754 611h0M1754 537h0M1754 537h0M1754 588h0M1754 440h0M1754 572h0M1754 427h0M1754 555h0M1754 562h0M1755 530h0M1755 486h0M1755 578h0M1755 563h0M1755 518h0M1755 471h0M1755 439h0M1755 499h0M1756 548h0M1756 501h0M1756 440h0M1756 305h0M1756 597h0M1756 540h0M1756 394h0M1756 424h0M1756 447h0M1757 540h0M1757 342h0M1757 409h0M1757 429h0M1758 408h0M1758 420h0M1758 414h0M1758 407h0M1758 496h0M1758 476h0M1759 433h0M1759 602h0M1759 441h0M1759 432h0M1759 561h0M1759 580h0M1759 435h0M1759 593h0M1760 570h0M1760 487h0M1760 548h0M1760 438h0M1760 618h0M1760 576h0M1760 434h0M1760 464h0M1760 406h0M1760 456h0M1760 422h0M1761 492h0M1761 519h0M1761 549h0M1761 582h0M1761 504h0M1761 471h0M1761 585h0M1761 404h0M1761 425h0M1761 491h0M1761 388h0M1762 396h0M1762 415h0M1762 384h0M1762 576h0M1762 521h0M1762 428h0M1762 464h0M1763 405h0M1763 514h0M1763 549h0M1763 556h0M1763 539h0M1763 594h0M1763 618h0M1764 361h0M1764 487h0M1764 405h0M1764 404h0M1764 482h0M1765 551h0M1765 513h0M1765 363h0M1765 573h0M1765 398h0M1765 370h0M1765 476h0M1765 540h0M1765 358h0M1766 382h0M1766 451h0M1766 326h0M1767 415h0M1767 455h0M1767 374h0M1767 380h0M1767 401h0M1767 590h0M1767 334h0M1767 556h0M1768 439h0M1768 400h0M1768 451h0M1768 558h0M1768 544h0M1768 555h0M1768 407h0M1768 450h0M1768 530h0M1768 522h0M1768 415h0M1768 461h0M1768 397h0M1769 389h0M1769 592h0M1769 433h0M1769 391h0M1769 458h0M1769 428h0M1769 430h0M1769 449h0M1769 496h0M1769 360h0M1769 433h0M1770 554h0M1770 389h0M1770 492h0M1770 318h0M1770 381h0M1770 482h0M1770 394h0M1770 534h0M1770 574h0M1771 390h0M1771 357h0M1771 461h0M1771 421h0M1771 405h0M1771 370h0M1771 436h0M1771 463h0M1771 400h0M1771 404h0M1772 458h0M1772 420h0M1772 386h0M1772 525h0M1772 432h0M1772 458h0M1772 527h0M1772 520h0M1772 413h0M1773 516h0M1773 472h0M1773 532h0M1773 393h0M1773 468h0M1773 497h0M1773 436h0M1773 575h0M1773 519h0M1773 534h0M1773 395h0M1773 474h0M1773 550h0M1773 419h0M1774 533h0M1774 410h0M1774 506h0M1774 499h0M1774 388h0M1774 420h0M1774 440h0M1774 396h0M1774 572h0M1774 357h0M1774 421h0M1775 398h0M1775 538h0M1775 455h0M1775 470h0M1775 477h0M1775 507h0M1775 500h0M1776 460h0M1776 409h0M1776 501h0M1776 398h0M1776 472h0M1776 603h0M1776 555h0M1776 537h0M1777 385h0M1777 458h0M1777 527h0M1777 557h0M1777 434h0M1777 419h0M1777 570h0M1777 443h0M1777 456h0M1778 369h0M1778 530h0M1778 389h0M1778 552h0M1778 525h0M1778 394h0M1778 468h0M1778 515h0M1778 527h0M1779 497h0M1779 544h0M1779 419h0M1779 504h0M1779 414h0M1779 519h0M1780 336h0M1780 465h0M1780 561h0M1780 577h0M1780 431h0M1781 370h0M1781 441h0M1781 436h0M1781 398h0M1781 440h0M1781 506h0M1781 455h0M1781 542h0M1781 363h0M1781 395h0M1781 357h0M1781 372h0M1781 453h0M1782 444h0M1782 542h0M1782 285h0M1782 308h0M1782 414h0M1782 383h0M1782 576h0M1782 587h0M1783 452h0M1783 523h0M1783 358h0M1783 415h0M1783 408h0M1783 412h0M1783 435h0M1783 392h0M1784 376h0M1784 416h0M1784 417h0M1784 486h0M1784 481h0M1784 385h0M1784 515h0M1784 528h0M1785 484h0M1785 417h0M1785 521h0M1785 415h0M1785 581h0M1785 429h0M1785 501h0M1785 513h0M1785 393h0M1785 341h0M1786 417h0M1786 469h0M1786 503h0M1786 545h0M1786 320h0M1786 443h0M1786 416h0M1787 484h0M1787 441h0M1787 522h0M1787 609h0M1787 587h0M1787 385h0M1787 367h0M1787 422h0M1787 550h0M1787 482h0M1787 524h0M1787 409h0M1788 480h0M1788 503h0M1788 399h0M1788 401h0M1788 433h0M1788 572h0M1788 445h0M1788 485h0M1788 516h0M1788 532h0M1788 475h0M1789 491h0M1789 518h0M1789 357h0M1789 398h0M1789 485h0M1789 395h0M1789 532h0M1790 403h0M1790 298h0M1790 480h0M1790 528h0M1790 453h0M1790 516h0M1791 468h0M1791 463h0M1791 488h0M1791 428h0M1791 419h0M1791 644h0M1791 521h0M1792 498h0M1792 496h0M1792 385h0M1792 455h0M1792 481h0M1792 394h0M1792 419h0M1792 525h0M1792 401h0M1792 496h0M1793 427h0M1793 507h0M1793 538h0M1793 492h0M1793 375h0M1793 504h0M1793 472h0M1793 530h0M1793 405h0M1793 414h0M1793 554h0M1794 459h0M1794 481h0M1794 495h0M1794 396h0M1794 537h0M1794 365h0M1794 414h0M1795 448h0M1795 397h0M1795 437h0M1795 424h0M1795 439h0M1795 384h0M1795 520h0M1795 428h0M1795 444h0M1795 434h0M1795 484h0M1795 423h0M1796 354h0M1796 431h0M1796 513h0M1796 428h0M1796 456h0M1796 449h0M1796 506h0M1796 352h0M1796 476h0M1796 483h0M1796 579h0M1796 387h0M1796 279h0M1796 502h0M1797 551h0M1797 426h0M1797 519h0M1797 380h0M1797 571h0M1797 489h0M1797 520h0M1797 443h0M1798 281h0M1798 387h0M1798 412h0M1798 391h0M1798 574h0M1798 459h0M1798 467h0M1798 556h0M1798 404h0M1798 487h0M1798 528h0M1798 348h0M1798 544h0M1798 457h0M1799 436h0M1799 542h0M1799 421h0M1799 558h0M1799 395h0M1799 502h0M1799 551h0M1799 365h0M1799 450h0M1799 391h0M1800 372h0M1800 378h0M1800 454h0M1800 575h0M1800 369h0M1800 423h0M1801 384h0M1801 496h0M1801 387h0M1801 371h0M1801 499h0M1801 419h0M1801 504h0M1801 478h0M1802 358h0M1802 551h0M1802 423h0M1802 430h0M1802 503h0M1802 435h0M1802 372h0M1802 380h0M1803 278h0M1803 395h0M1803 550h0M1803 393h0M1803 319h0M1803 376h0M1803 340h0M1803 508h0M1803 543h0M1803 365h0M1804 444h0M1804 486h0M1804 477h0M1804 518h0M1804 459h0M1804 383h0M1804 507h0M1804 547h0M1804 406h0M1804 368h0M1804 458h0M1804 538h0M1804 400h0M1805 468h0M1805 445h0M1805 436h0M1805 365h0M1805 465h0M1805 398h0M1805 444h0M1805 378h0M1805 468h0M1806 371h0M1806 467h0M1806 523h0M1806 338h0M1806 291h0M1806 424h0M1806 459h0M1807 544h0M1807 523h0M1807 487h0M1807 499h0M1807 256h0M1807 502h0M1807 338h0M1807 523h0M1808 519h0M1808 539h0M1808 522h0M1808 472h0M1808 415h0M1808 375h0M1808 374h0M1809 383h0M1809 553h0M1809 337h0M1809 510h0M1809 358h0M1809 354h0M1810 351h0M1810 531h0M1810 407h0M1810 553h0M1810 437h0M1810 490h0M1810 503h0M1810 329h0M1810 463h0M1811 356h0M1811 453h0M1811 392h0M1811 365h0M1811 413h0M1811 383h0M1811 440h0M1812 409h0M1812 457h0M1812 480h0M1812 269h0M1812 371h0M1812 547h0M1812 490h0M1812 423h0M1813 330h0M1813 499h0M1813 409h0M1813 356h0M1813 543h0M1813 290h0M1813 435h0M1813 567h0M1813 501h0M1813 523h0M1813 395h0M1813 582h0M1814 429h0M1814 380h0M1814 439h0M1814 279h0M1814 472h0M1814 450h0M1815 491h0M1815 503h0M1815 417h0M1815 449h0M1815 520h0M1816 403h0M1816 394h0M1816 403h0M1816 518h0M1816 401h0M1816 483h0M1816 346h0M1816 469h0M1816 381h0M1816 494h0M1817 496h0M1817 334h0M1817 259h0M1817 402h0M1817 512h0M1818 500h0M1818 407h0M1818 518h0M1818 475h0M1818 493h0M1818 548h0M1818 265h0M1819 329h0M1819 342h0M1819 526h0M1819 467h0M1819 418h0M1819 358h0M1820 505h0M1820 354h0M1820 462h0M1820 363h0M1820 446h0M1820 342h0M1820 359h0M1820 428h0M1821 387h0M1821 528h0M1821 463h0M1821 496h0M1821 541h0M1822 506h0M1822 499h0M1822 513h0M1822 338h0M1822 464h0M1822 445h0M1822 386h0M1822 463h0M1822 511h0M1822 491h0M1823 440h0M1823 489h0M1823 381h0M1823 504h0M1823 356h0M1823 439h0M1823 407h0M1823 422h0M1823 486h0M1823 420h0M1824 399h0M1824 245h0M1825 383h0M1825 349h0M1825 452h0M1825 416h0M1825 337h0M1825 370h0M1826 505h0M1826 348h0M1826 445h0M1826 329h0M1826 339h0M1826 369h0M1827 409h0M1827 299h0M1827 329h0M1828 401h0M1828 405h0M1828 403h0M1828 437h0M1828 401h0M1828 445h0M1828 433h0M1828 367h0M1828 340h0M1829 410h0M1829 496h0M1829 426h0M1829 358h0M1829 448h0M1830 462h0M1830 370h0M1830 381h0M1831 395h0M1831 356h0M1831 346h0M1831 499h0M1831 472h0M1832 452h0M1832 485h0M1832 371h0M1832 443h0M1832 533h0M1833 490h0M1833 417h0M1833 342h0M1833 345h0M1833 513h0M1833 440h0M1833 350h0M1833 483h0M1834 374h0M1834 382h0M1834 367h0M1834 480h0M1834 467h0M1834 428h0M1834 504h0M1835 473h0M1835 457h0M1835 512h0M1835 271h0M1835 303h0M1835 478h0M1835 394h0M1835 475h0M1835 408h0M1835 348h0M1835 454h0M1836 464h0M1836 313h0M1836 494h0M1837 412h0M1837 488h0M1837 420h0M1837 366h0M1837 459h0M1837 507h0M1838 385h0M1838 352h0M1838 390h0M1838 399h0M1838 253h0M1838 494h0M1838 393h0M1839 417h0M1839 368h0M1839 474h0M1839 457h0M1839 404h0M1839 429h0M1839 484h0M1839 383h0M1839 368h0M1840 378h0M1840 343h0M1840 448h0M1841 366h0M1841 333h0M1841 449h0M1841 402h0M1842 429h0M1842 353h0M1842 481h0M1842 477h0M1842 365h0M1842 374h0M1842 440h0M1842 370h0M1842 356h0M1842 520h0M1842 397h0M1842 451h0M1843 403h0M1843 369h0M1843 363h0M1843 373h0M1843 457h0M1843 319h0M1844 469h0M1844 493h0M1844 378h0M1844 382h0M1844 221h0M1844 366h0M1844 455h0M1845 407h0M1845 495h0M1845 288h0M1845 437h0M1845 439h0M1845 391h0M1845 446h0M1846 445h0M1846 374h0M1846 399h0M1846 469h0M1846 450h0M1846 421h0M1847 365h0M1847 439h0M1847 388h0M1848 362h0M1848 415h0M1848 289h0M1849 367h0M1849 426h0M1849 377h0M1849 387h0M1849 462h0M1849 327h0M1850 465h0M1851 450h0M1851 370h0M1851 357h0M1851 441h0M1852 369h0M1852 505h0M1852 399h0M1852 358h0M1852 537h0M1852 524h0M1853 394h0M1853 532h0M1853 446h0M1853 485h0M1853 457h0M1854 353h0M1854 452h0M1854 460h0M1854 461h0M1855 392h0M1855 454h0M1855 503h0M1856 480h0M1857 488h0M1857 530h0M1857 423h0M1857 362h0M1858 401h0M1858 343h0M1858 360h0M1858 374h0M1858 302h0M1859 392h0M1860 423h0M1860 411h0M1861 358h0M1861 449h0M1861 379h0M1861 388h0M1861 493h0M1862 451h0M1862 328h0M1862 433h0M1863 522h0M1863 439h0M1863 521h0M1864 458h0M1864 407h0M1864 410h0M1865 366h0M1865 459h0M1865 444h0M1865 419h0M1865 518h0M1866 437h0M1866 386h0M1866 326h0M1866 208h0M1866 364h0M1867 367h0M1867 395h0M1868 382h0M1868 360h0M1868 484h0M1868 381h0M1868 323h0M1869 291h0M1869 343h0M1869 385h0M1869 358h0M1869 401h0M1869 444h0M1870 443h0M1870 432h0M1870 426h0M1870 440h0M1871 374h0M1871 354h0M1871 387h0M1871 365h0M1872 383h0M1872 350h0M1873 259h0M1873 369h0M1873 377h0M1873 440h0M1873 383h0M1874 414h0M1874 336h0M1874 393h0M1874 431h0M1874 413h0M1874 336h0M1875 451h0M1875 368h0M1875 326h0M1875 362h0M1875 403h0M1876 417h0M1876 399h0M1876 355h0M1876 348h0M1876 398h0M1878 429h0M1878 407h0M1878 349h0M1878 399h0M1878 349h0M1879 483h0M1879 490h0M1879 344h0M1879 438h0M1879 368h0M1880 352h0M1880 497h0M1880 310h0M1881 332h0M1882 319h0M1882 391h0M1883 377h0M1883 360h0M1883 502h0M1884 343h0M1884 451h0M1884 447h0M1884 497h0M1885 313h0M1885 441h0M1885 464h0M1885 400h0M1886 391h0M1886 369h0M1887 344h0M1887 276h0M1889 420h0M1889 397h0M1889 433h0M1889 252h0M1889 371h0M1889 351h0M1890 245h0M1890 347h0M1890 384h0M1891 424h0M1891 363h0M1892 422h0M1892 388h0M1892 317h0M1892 407h0M1893 368h0M1893 416h0M1893 364h0M1893 459h0M1893 468h0M1893 428h0M1893 469h0M1894 365h0M1894 488h0M1895 395h0M1896 300h0M1896 341h0M1896 409h0M1897 466h0M1897 407h0M1897 421h0M1897 366h0M1898 375h0M1899 486h0M1899 391h0M1899 473h0M1901 477h0M1901 419h0M1901 356h0M1902 348h0M1902 336h0M1902 406h0M1903 379h0M1903 381h0M1903 473h0M1903 475h0M1905 389h0M1907 320h0M1907 348h0M1908 368h0M1909 347h0M1909 478h0M1910 424h0M1911 361h0M1911 363h0M1911 384h0M1911 443h0M1911 463h0M1912 313h0M1912 452h0M1913 395h0M1914 407h0M1915 241h0M1915 469h0M1915 349h0M1916 417h0M1916 336h0M1916 379h0M1917 426h0M1917 360h0M1918 465h0M1919 457h0M1919 272h0M1919 318h0M1920 426h0M1920 379h0M1920 384h0M1922 459h0M1922 463h0M1923 460h0M1924 357h0M1924 379h0M1927 442h0M1927 436h0M1928 278h0M1930 316h0M1931 357h0M1931 393h0M1932 292h0M1933 284h0M1933 424h0M1933 414h0M1935 240h0M1935 362h0M1935 426h0M1936 400h0M1937 388h0M1937 240h0M1938 411h0M1938 285h0M1939 440h0M1940 420h0M1940 260h0M1941 260h0M1941 306h0M1941 400h0M1944 403h0M1946 405h0M1947 425h0M1948 402h0M1950 395h0M1951 278h0M1952 278h0M1952 355h0M1953 315h0M1953 332h0M1956 296h0M1956 298h0M1956 390h0M1956 262h0M1956 262h0M1957 325h0M1957 341h0M1959 407h0M1961 391h0M1963 327h0M1963 372h0M1963 278h0M1963 405h0M1963 279h0M1964 403h0M1966 314h0M1969 391h0M1969 303h0M1969 349h0M1971 378h0M1971 387h0M1974 298h0M1974 298h0M1976 362h0M1979 266h0M1980 266h0M1982 372h0M1982 271h0M1983 307h0M1984 332h0M1985 364h0M1986 336h0M1988 308h0M1989 267h0M1989 267h0M1998 353h0M1999 343h0M2002 272h0M2004 323h0M2005 314h0M2009 285h0M2014 291h0"/>
<line x1="267.6" y1="1649.3" x2="2299.2" y2="48.7" stroke="#000" stroke-width="2.3" filter="url(#bg)"/>
<g stroke="#363636" stroke-width="3.7" fill="none" filter="url(#ba)">
<rect x="267.6" y="48.7" width="2031.6" height="1600.6"/>
<line x1="944.8" y1="1649.3" x2="944.8" y2="1629.3"/>
<line x1="944.8" y1="48.7" x2="944.8" y2="68.7"/>
<line x1="1622.0" y1="1649.3" x2="1622.0" y2="1629.3"/>
<line x1="1622.0" y1="48.7" x2="1622.0" y2="68.7"/>
<line x1="267.6" y1="582.2" x2="287.6" y2="582.2"/>
<line x1="2299.2" y1="582.2" x2="2279.2" y2="582.2"/>
<line x1="267.6" y1="1115.8" x2="287.6" y2="1115.8"/>
<line x1="2299.2" y1="1115.8" x2="2279.2" y2="1115.8"/>
</g>
<g filter="url(#bt)" stroke="#fff" stroke-width="1.00">
<text transform="translate(267.6 1745.8) scale(0.975 1)" font-size="72.0" text-anchor="middle">-1.5</text>
<text transform="translate(944.8 1745.8) scale(0.975 1)" font-size="72.0" text-anchor="middle">0</text>
<text transform="translate(1622.0 1745.8) scale(0.975 1)" font-size="72.0" text-anchor="middle">1.5</text>
<text transform="translate(2299.2 1745.8) scale(0.975 1)" font-size="72.0" text-anchor="middle">3</text>
<text transform="translate(243.0 1676.5) scale(0.975 1)" font-size="72.0" text-anchor="end">-1.5</text>
<text transform="translate(243.0 1143.0) scale(0.975 1)" font-size="72.0" text-anchor="end">0</text>
<text transform="translate(243.0 609.4) scale(0.975 1)" font-size="72.0" text-anchor="end">1.5</text>
<text transform="translate(243.0 75.9) scale(0.975 1)" font-size="72.0" text-anchor="end">3</text>
<text transform="translate(1284.0 1844.2) scale(0.981 1)" font-size="77.9" text-anchor="middle">NOAA Tide Gauge (9419750) [m]</text>
<text transform="translate(88.0 846.0) rotate(-90) scale(0.981 1)" font-size="77.9" text-anchor="middle">GNSS-R based Tide Gauge [m]</text>
<text transform="translate(1291.5 1514.0)" font-size="69.2" text-anchor="start" style="fill:#000">Correlation Coefficient: 0.933</text>
</g>
</svg>
</body>
</html>
